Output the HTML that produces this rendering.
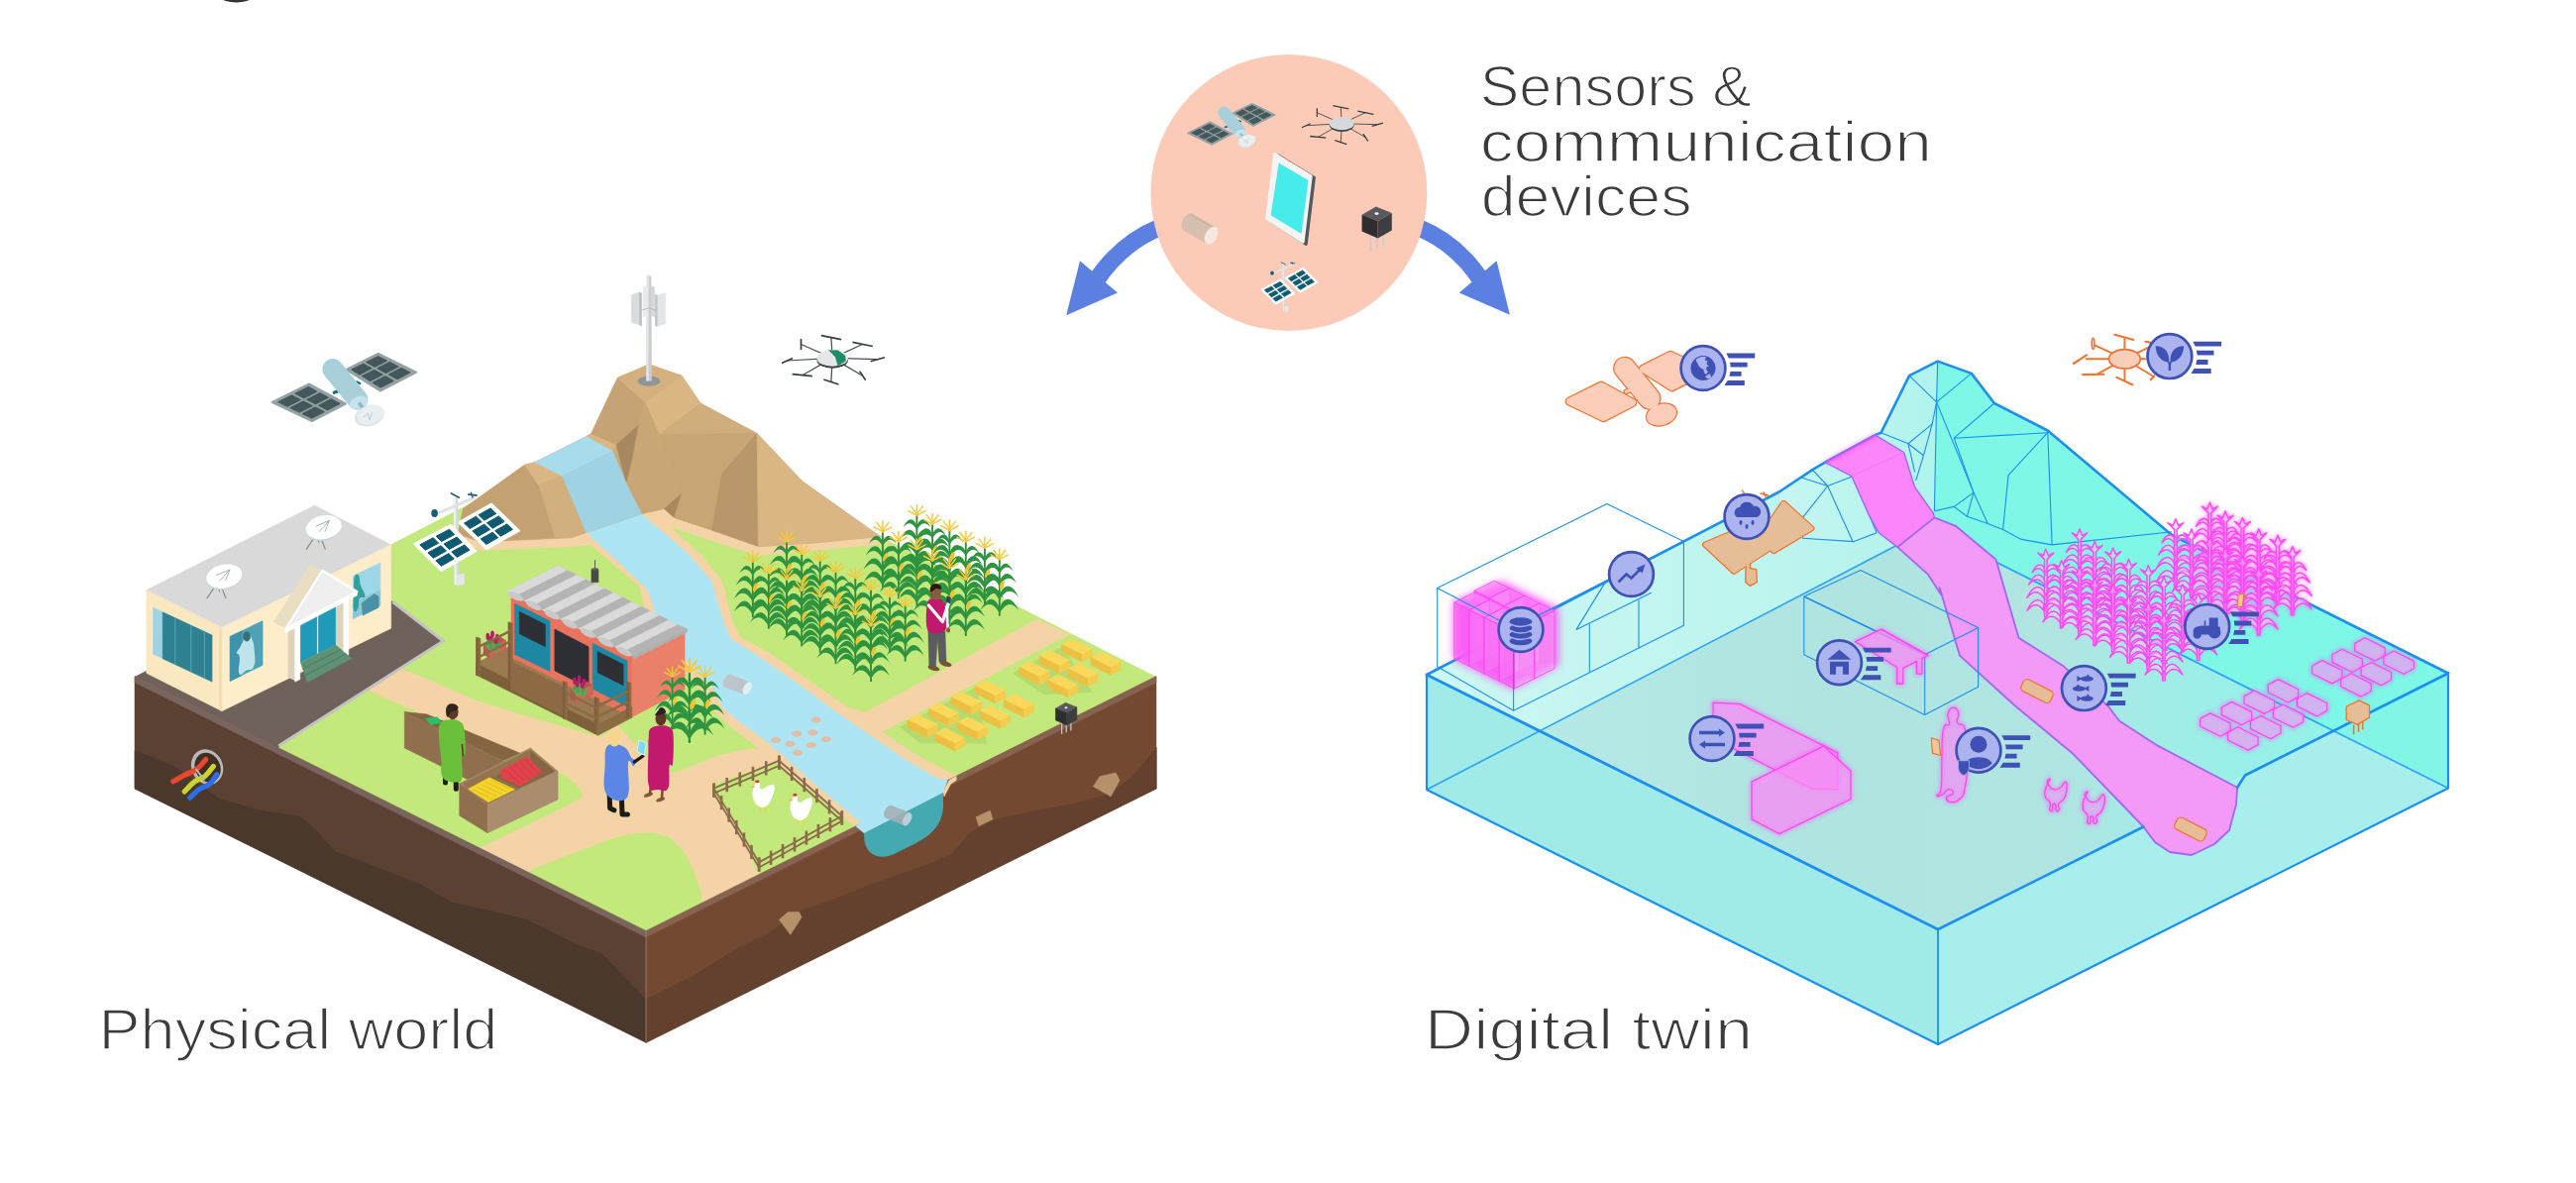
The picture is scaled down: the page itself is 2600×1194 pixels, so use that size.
<!DOCTYPE html>
<html lang="en"><head><meta charset="utf-8"><title>Physical world and digital twin</title>
<style>
html,body{margin:0;padding:0;background:#fff;}
body{width:2600px;height:1194px;overflow:hidden;font-family:"Liberation Sans",sans-serif;}
svg{display:block}
.lbl{font-family:"Liberation Sans",sans-serif;font-size:56.5px;fill:#3b3b3b;stroke:#fff;stroke-width:1.6px;paint-order:fill stroke;}
</style></head><body>
<svg width="2600" height="1194" viewBox="0 0 2600 1194">
<defs>
<g id="corn">
<path d="M0 0 L0 -88" stroke="#2E8B3A" stroke-width="2.8" fill="none"/>
<g fill="#2F9440">
<path d="M0 -12 C6 -28 17 -33 29 -9 C18 -22 9 -20 0 -4Z"/>
<path d="M0 -12 C-6 -28 -17 -33 -29 -9 C-18 -22 -9 -20 0 -4Z"/>
<path d="M0 -32 C6 -48 17 -53 29 -29 C18 -42 9 -40 0 -24Z"/>
<path d="M0 -32 C-6 -48 -17 -53 -29 -29 C-18 -42 -9 -40 0 -24Z"/>
<path d="M0 -52 C5.4 -66.4 15.3 -70.9 26.1 -49.3 C16.2 -61 8.1 -59.2 0 -44.8Z"/>
<path d="M0 -52 C-5.4 -66.4 -15.3 -70.9 -26.1 -49.3 C-16.2 -61 -8.1 -59.2 0 -44.8Z"/>
<path d="M0 -70 C4.3 -81.5 12.2 -85.1 20.9 -67.8 C13 -77.2 6.5 -75.8 0 -64.2Z"/>
<path d="M0 -70 C-4.3 -81.5 -12.2 -85.1 -20.9 -67.8 C-13 -77.2 -6.5 -75.8 0 -64.2Z"/>
</g>
<ellipse cx="4" cy="-47" rx="3" ry="7" fill="#F2C230" transform="rotate(20 4 -47)"/>
<g stroke="#F6C83A" stroke-width="2.2" fill="none" stroke-linecap="round">
<path d="M0 -86 L0 -102"/><path d="M0 -88 L-9 -100"/><path d="M0 -88 L9 -100"/><path d="M0 -86 L-13 -93"/><path d="M0 -86 L13 -93"/>
</g>
</g><clipPath id="topclip"><polygon points="136,683 647,419 1167,683 652,940"/></clipPath>
<linearGradient id="gband" gradientUnits="userSpaceOnUse" x1="1440" y1="0" x2="1960" y2="0">
<stop offset="0" stop-color="#CDF7F3"/><stop offset="1" stop-color="#B4F3EC"/></linearGradient>
<linearGradient id="gfloor" gradientUnits="userSpaceOnUse" x1="1556" y1="0" x2="2354" y2="0">
<stop offset="0" stop-color="#B5E9E6"/><stop offset="0.35" stop-color="#AFE4E1"/><stop offset="0.66" stop-color="#B0E5E2"/><stop offset="0.82" stop-color="#9DEEE7"/><stop offset="1" stop-color="#93F2E8"/></linearGradient>
<linearGradient id="gmount" gradientUnits="userSpaceOnUse" x1="1800" y1="0" x2="2000" y2="0">
<stop offset="0" stop-color="#C6F6F1"/><stop offset="1" stop-color="#A9F3EB"/></linearGradient>
<filter id="glow" x="-30%" y="-30%" width="160%" height="160%"><feGaussianBlur stdDeviation="2.2"/></filter>
<filter id="glow2" x="-30%" y="-30%" width="160%" height="160%"><feGaussianBlur stdDeviation="4"/></filter>
<g id="cornm" fill="#FAC0F9" fill-opacity="0.45" stroke="#FF4AF3" stroke-width="2.3" stroke-linejoin="round">
<path d="M0 -12 C6 -28 17 -33 29 -9 C18 -22 9 -20 0 -4Z"/>
<path d="M0 -12 C-6 -28 -17 -33 -29 -9 C-18 -22 -9 -20 0 -4Z"/>
<path d="M0 -32 C6 -48 17 -53 29 -29 C18 -42 9 -40 0 -24Z"/>
<path d="M0 -32 C-6 -48 -17 -53 -29 -29 C-18 -42 -9 -40 0 -24Z"/>
<path d="M0 -52 C5.4 -66.4 15.3 -70.9 26.1 -49.3 C16.2 -61 8.1 -59.2 0 -44.8Z"/>
<path d="M0 -52 C-5.4 -66.4 -15.3 -70.9 -26.1 -49.3 C-16.2 -61 -8.1 -59.2 0 -44.8Z"/>
<path d="M0 -70 C4.3 -81.5 12.2 -85.1 20.9 -67.8 C13 -77.2 6.5 -75.8 0 -64.2Z"/>
<path d="M0 -70 C-4.3 -81.5 -12.2 -85.1 -20.9 -67.8 C-13 -77.2 -6.5 -75.8 0 -64.2Z"/>
<path d="M-2 0 L-2 -88 L-12 -98 L-4 -94 L0 -104 L4 -94 L12 -98 L2 -88 L2 0Z"/>
</g>
</defs>
<polygon points="136,683 652,940 652,1052 136,796" fill="#5B4034" stroke="#5B4034" stroke-width="0.5" />
<polygon points="136,757.8 176.1,773.5 221.7,806.5 262.3,817.9 302.9,824.3 318.1,837 338.4,859.8 379,875 424.6,892.7 455.1,910.5 500.7,920.6 531.1,928.3 581.9,953.6 607.2,962.5 652.4,1008.9 652.4,1052.5 136,795.9" fill="#4B382D" stroke="#4B382D" stroke-width="0.5" />
<polygon points="652,940 1167,683 1167,796 652,1052" fill="#744931" stroke="#744931" stroke-width="0.5" />
<polygon points="1167.3,754.5 1158,765.9 1142.7,783.7 1119.9,801.4 1081.9,811.6 1041.3,819.2 1005.8,826.8 980.4,839.5 960.1,862.3 929.7,875 879,892.7 840.9,908 810.5,918.1 777.5,940.9 742,958.7 701.4,984 652,1008.9 652,1052.5 1167.3,795.9" fill="#64412E" stroke="#64412E" stroke-width="0.5" />
<polygon points="786.4,928.3 795.3,920.6 806.7,920.6 809.2,925.7 797.8,943.5" fill="#B5926A" stroke="#B5926A" stroke-width="0.5" />
<polygon points="985,824.8 999.4,817.9 1002,826.8 988,833.7" fill="#B5926A" stroke="#B5926A" stroke-width="0.5" />
<polygon points="1103.4,793.8 1109.8,783.7 1126.2,779.9 1130.1,787.5 1121.2,804" fill="#B5926A" stroke="#B5926A" stroke-width="0.5" />
<g clip-path="url(#topclip)">
<polygon points="136,683 647,419 1167,683 652,940" fill="#C3E87C" stroke="#C3E87C" stroke-width="0.5" />
<path d="M403.8 675 C413.2 676.0 470.1 703.2 486.7 708.8 C503.3 714.4 592.0 740.7 603.3 742.6 C614.6 744.5 618.1 730.4 621.9 731.8 C625.7 733.2 644.4 755.5 649 759.5 C653.6 763.5 671.5 779.5 677.7 779.8 C683.9 780.1 716.5 764.9 723.4 762.9 C730.3 760.9 755.0 755.1 760.6 755.4 C766.2 755.7 794.4 763.1 791 766.3 C787.6 769.5 724.2 788.2 720 793.3 C715.8 798.4 737.2 821.8 740.3 827.1 C743.4 832.5 755.4 853.3 757.2 857.5 C759.0 861.7 760.3 874.6 762.3 877.8 C764.3 881.0 783.6 891.8 780.9 895.4 C778.2 899.0 736.0 919.5 730.1 920.8 C724.2 922.1 712.5 912.5 710.5 910.6 C708.5 908.7 707.4 900.8 706.5 898.1 C705.6 895.4 701.1 881.0 699.7 877.8 C698.3 874.6 691.6 861.9 689.6 859.2 C687.6 856.5 678.8 847.2 676 845.7 C673.2 844.2 659.1 840.9 655.7 840.6 C652.3 840.3 638.9 841.7 635.5 842.3 C632.1 842.9 619.2 846.1 615.2 847.4 C611.2 848.7 594.3 855.1 588.1 857.5 C581.9 859.9 546.4 873.7 540.8 876.1 C535.2 878.5 526.1 887.5 520.5 886.3 C514.9 885.1 475.5 864.5 473.2 861.6 C470.9 858.7 484.9 855.6 493.4 851.5 C501.8 847.4 566.7 816.0 574.6 811.9 C582.5 807.8 588.9 804.5 588.1 801.8 C587.3 799.1 582.4 788.5 564.5 779.8 C546.6 771.1 386.8 705.6 373.4 696.9 C360.0 688.2 394.4 674.0 403.8 675Z" fill="#F4D4A7" />
<polygon points="820.6,706.2 873.9,718.8 1046.4,625 1079.3,640.2 868.8,750 856.2,750" fill="#F4D4A7" stroke="#F4D4A7" stroke-width="0.5" />
<polygon points="583.1,539 608.4,560 645.6,592.1 650.7,614.1 659.1,651.3 689.6,676.7 709.8,698.6 721.7,718.9 740.3,735.8 760.6,751 784.2,771.3 824.8,803.4 865.4,835.6 966.8,783.8 926.2,762.9 885.7,735.8 855.2,713.8 821.4,690.2 777.5,659.7 747,642.8 738.6,625.9 728.4,585.4 707.5,560 660.8,517.7 647.5,518.6" fill="#F4D4A7" stroke="#F4D4A7" stroke-width="0.5" />
<polygon points="591.7,537.7 616.9,560 654.1,595.5 659.8,612.4 665.2,637.8 672,652 699.7,672.3 720,695.2 729.5,713.8 747,729.1 767.3,743.3 791,762.9 824.8,793.3 872.1,832.5 953.3,789.9 912.7,766.3 868.8,735.8 841.7,717.2 807.9,691.9 763.9,661.4 736.9,644.5 730.1,627.6 718.3,587 695.6,560 647.5,518.6" fill="#ADE5F4" stroke="#ADE5F4" stroke-width="0.5" />
<polygon points="396,607 447.4,647.5 281.3,753.5 275,765 120,690 300,590" fill="#6F625B" stroke="#6F625B" stroke-width="0.5" />
<polyline points="396.5,607.5 447.4,647 281.3,752.8" fill="none" stroke="#C3C3C3" stroke-width="3" />
</g>
<polygon points="136,682.4 652,939.4 652,946 136,689" fill="#79635A" stroke="#79635A" stroke-width="0.5" />
<polygon points="652,939.4 1167,682.4 1167,689 652,946" fill="#87624F" stroke="#87624F" stroke-width="0.5" />
<polyline points="652,940 652,1052" fill="none" stroke="#9c8478" stroke-width="0.8" />
<polygon points="462.4,538.9 485.2,545.2 576.5,541.4 591.7,536.4 601.8,549 579,551.6 485.2,555.4 454.8,546.5" fill="#F4D4A7" stroke="#F4D4A7" stroke-width="0.5" />
<polygon points="647.5,517.4 670.3,512.3 680.4,521.2 718.5,533.8 766.7,550.3 825,546.5 888.4,540.2 901,547.8 825,555.4 764.1,560.5 713.4,544 675.4,531.3 667.8,523.7 658.9,528.8" fill="#F4D4A7" stroke="#F4D4A7" stroke-width="0.5" />
<polygon points="467.5,513.5 529.6,469.2 539.7,466.6 591.7,440.5 596.8,437.5 623.4,381.2 655.1,367.8 688.1,379.2 707.1,407.1 764.1,437.5 809.8,485.7 845.3,511 888.4,541.4 825,547.8 766.7,551.6 718.5,535.1 680.4,522.4 670.3,513.5 647.5,518.6 591.7,537.6 576.5,542.7 485.2,547 462.4,538.9" fill="#CBA878" stroke="#CBA878" stroke-width="0.5" />
<polygon points="467.5,513.5 529.6,469.2 543.5,489.5 560,541.9 485.2,547 462.4,538.9" fill="#C4A173" stroke="#C4A173" stroke-width="0.5" />
<polygon points="529.6,469.2 539.7,466.6 567.6,480.6 543.5,489.5" fill="#D9B684" stroke="#D9B684" stroke-width="0.5" />
<polygon points="543.5,489.5 567.6,480.6 591.7,537.6 576.5,542.7 560,541.9" fill="#D2AF7E" stroke="#D2AF7E" stroke-width="0.5" />
<polygon points="591.7,440.5 596.8,437.5 622.1,448.9 618.3,455.2" fill="#D9B684" stroke="#D9B684" stroke-width="0.5" />
<polygon points="623.4,381.2 651.3,406.6 644.9,428.6 622.1,448.9 596.8,437.5" fill="#C6A374" stroke="#C6A374" stroke-width="0.5" />
<polygon points="623.4,381.2 655.1,367.8 688.1,379.2 651.3,406.6" fill="#D4B07F" stroke="#D4B07F" stroke-width="0.5" />
<polygon points="651.3,406.6 688.1,379.2 707.1,407.1 665.2,438.8" fill="#D9B684" stroke="#D9B684" stroke-width="0.5" />
<polygon points="644.9,428.6 622.1,448.9 632.3,488.2 638.6,462.8" fill="#A8895F" stroke="#A8895F" stroke-width="0.5" />
<polygon points="651.3,406.6 665.2,438.8 688.1,498.3 670.3,513.5 647.5,518.6 632.3,488.2 638.6,462.8 644.9,428.6" fill="#C9A676" stroke="#C9A676" stroke-width="0.5" />
<polygon points="670.3,513.5 688.1,498.3 680.4,522.4" fill="#A8895F" stroke="#A8895F" stroke-width="0.5" />
<polygon points="665.2,438.8 707.1,407.1 764.1,437.5" fill="#D0AD7C" stroke="#D0AD7C" stroke-width="0.5" />
<polygon points="665.2,438.8 764.1,437.5 728.6,478.1 718.5,535.1 680.4,522.4 688.1,498.3" fill="#C8A575" stroke="#C8A575" stroke-width="0.5" />
<polygon points="764.1,437.5 765.4,551.6 718.5,535.1 728.6,478.1" fill="#B8976B" stroke="#B8976B" stroke-width="0.5" />
<polygon points="764.1,437.5 809.8,485.7 845.3,511 888.4,541.4 825,547.8 765.4,551.6" fill="#D9B684" stroke="#D9B684" stroke-width="0.5" />
<polygon points="539.7,466.6 591.7,440.5 618.3,455.2 567.6,480.6" fill="#A9DCEB" stroke="#A9DCEB" stroke-width="0.5" />
<polygon points="567.6,480.6 618.3,455.2 632.3,488.2 647.5,518.6 591.7,537.6" fill="#9FD3E3" stroke="#9FD3E3" stroke-width="0.5" />
<ellipse cx="655.1" cy="384.7" rx="11.41" ry="5.07" fill="#8E9599" />
<polygon points="653.1,279 657.1,279 657.6,384.2 652.6,384.2" fill="#C9CDD0" stroke="#C9CDD0" stroke-width="0.5" />
<polygon points="653.1,279 654.6,279 654.3,384.2 652.6,384.2" fill="#E4E6E8" stroke="#E4E6E8" stroke-width="0.5" />
<ellipse cx="655.1" cy="279" rx="2.28" ry="1.27" fill="#DADDDF" />
<polygon points="637.3,297.5 645.5,295 645.5,328 637.3,325.4" fill="#D9DBDD" stroke="#D9DBDD" stroke-width="0.5" />
<polygon points="645.5,295 647.5,296 647.5,329 645.5,328" fill="#B9BDC0" stroke="#B9BDC0" stroke-width="0.5" />
<polygon points="663.2,298 671.8,295.5 671.8,326.4 663.2,329.5" fill="#E3E5E6" stroke="#E3E5E6" stroke-width="0.5" />
<polygon points="661.4,297 663.2,298 663.2,329.5 661.4,328.5" fill="#BDC1C4" stroke="#BDC1C4" stroke-width="0.5" />
<polygon points="649,289.9 653.1,288.4 653.1,318.8 649,320.3" fill="#E9EAEB" stroke="#E9EAEB" stroke-width="0.5" />
<polygon points="657.1,288.4 660.7,289.9 660.7,319.8 657.1,318.3" fill="#D4D7D9" stroke="#D4D7D9" stroke-width="0.5" />
<polyline points="647.5,313.2 655.1,310.7 662.7,313.8" fill="none" stroke="#AEB3B6" stroke-width="0.8" />
<polyline points="840.2,361.4 808.5,347.5" fill="none" stroke="#4B4F52" stroke-width="1.25" />
<polyline points="840.2,361.4 838.9,340.6" fill="none" stroke="#4B4F52" stroke-width="1.25" />
<polyline points="840.2,361.4 870.6,347.5" fill="none" stroke="#4B4F52" stroke-width="1.25" />
<polyline points="840.2,361.4 885.8,362.7" fill="none" stroke="#4B4F52" stroke-width="1.25" />
<polyline points="840.2,361.4 870.6,379.2" fill="none" stroke="#4B4F52" stroke-width="1.25" />
<polyline points="840.2,361.4 838.9,385.5" fill="none" stroke="#4B4F52" stroke-width="1.25" />
<polyline points="840.2,361.4 809.8,378.7" fill="none" stroke="#4B4F52" stroke-width="1.25" />
<polyline points="840.2,361.4 794.5,364" fill="none" stroke="#4B4F52" stroke-width="1.25" />
<polyline points="808.5,341.9 808.5,353.1" fill="none" stroke="#3A3D40" stroke-width="1.7" />
<polyline points="828.8,338.6 849.1,342.7" fill="none" stroke="#3A3D40" stroke-width="1.7" />
<polyline points="860.5,345.4 880.8,349.5" fill="none" stroke="#3A3D40" stroke-width="1.7" />
<polyline points="878.7,364.7 892.9,360.7" fill="none" stroke="#3A3D40" stroke-width="1.7" />
<polyline points="867.6,374.6 873.7,383.7" fill="none" stroke="#3A3D40" stroke-width="1.7" />
<polyline points="831.3,383 846.5,388" fill="none" stroke="#3A3D40" stroke-width="1.7" />
<polyline points="799.6,377.6 819.9,379.7" fill="none" stroke="#3A3D40" stroke-width="1.7" />
<polyline points="789,366.5 800.1,361.4" fill="none" stroke="#3A3D40" stroke-width="1.7" />
<ellipse cx="840.2" cy="363.4" rx="15.72" ry="8.37" fill="#3F4346" />
<ellipse cx="840.2" cy="361.4" rx="15.72" ry="8.37" fill="#E4E6E8" />
<polygon points="836.6,353.6 845.8,353.8 852.9,358.9 853.4,364.5 845.8,369 843.2,360.2" fill="#1F8A66" stroke="#1F8A66" stroke-width="0.5" />
<polygon points="274.9,406 312.1,387.6 348.8,407.4 314.9,425.1" fill="#93A2A4" stroke="#93A2A4" stroke-width="2.2" stroke-linejoin="round"/>
<polygon points="281,405.7 294.3,399.1 303.2,403.5 290.1,410.1" fill="#45575B" stroke="#45575B" stroke-width="1.2" stroke-linejoin="round"/>
<polygon points="293.3,411.6 306.2,405.1 315.1,409.6 302.4,416" fill="#45575B" stroke="#45575B" stroke-width="1.2" stroke-linejoin="round"/>
<polygon points="305.6,417.6 318.2,411.1 327,415.6 314.7,422" fill="#45575B" stroke="#45575B" stroke-width="1.2" stroke-linejoin="round"/>
<polygon points="298,397.3 311.3,390.6 319.8,395.2 306.8,401.7" fill="#45575B" stroke="#45575B" stroke-width="1.2" stroke-linejoin="round"/>
<polygon points="309.8,403.3 322.8,396.8 331.3,401.3 318.6,407.8" fill="#45575B" stroke="#45575B" stroke-width="1.2" stroke-linejoin="round"/>
<polygon points="321.7,409.3 334.3,402.9 342.8,407.4 330.5,413.8" fill="#45575B" stroke="#45575B" stroke-width="1.2" stroke-linejoin="round"/>
<polygon points="349.7,373 381.8,356.9 419.9,375.8 383.7,394.4" fill="#93A2A4" stroke="#93A2A4" stroke-width="2.2" stroke-linejoin="round"/>
<polygon points="355,373 366.7,367.2 374.9,371.8 362.9,377.9" fill="#45575B" stroke="#45575B" stroke-width="1.2" stroke-linejoin="round"/>
<polygon points="365.7,379.6 377.8,373.5 386,378.1 373.5,384.5" fill="#45575B" stroke="#45575B" stroke-width="1.2" stroke-linejoin="round"/>
<polygon points="376.3,386.2 388.9,379.7 397.1,384.4 384.2,391" fill="#45575B" stroke="#45575B" stroke-width="1.2" stroke-linejoin="round"/>
<polygon points="369.9,365.6 381.6,359.7 390.2,364.1 378.2,370.2" fill="#45575B" stroke="#45575B" stroke-width="1.2" stroke-linejoin="round"/>
<polygon points="381.1,371.8 393.3,365.6 401.9,370 389.5,376.4" fill="#45575B" stroke="#45575B" stroke-width="1.2" stroke-linejoin="round"/>
<polygon points="392.4,378 405,371.5 413.6,375.9 400.7,382.6" fill="#45575B" stroke="#45575B" stroke-width="1.2" stroke-linejoin="round"/>
<polyline points="337.2,396.3 344.1,393.7" fill="none" stroke="#1C6E80" stroke-width="3.2" stroke-linecap="round"/>
<polyline points="360.4,385.6 363.2,387" fill="none" stroke="#1C6E80" stroke-width="2.5" stroke-linecap="round"/>
<polyline points="335.8,372.5 360.9,403.2" fill="none" stroke="#A9D0DA" stroke-width="21" stroke-linecap="round"/>
<ellipse cx="361.8" cy="406.5" rx="9.76" ry="6.14" fill="#C5E3EA" transform="rotate(-25 361.8 406.5)" />
<polyline points="362.3,406.5 366,411.6" fill="none" stroke="#8FB9C6" stroke-width="3.5" />
<ellipse cx="373" cy="419.5" rx="15.34" ry="10.41" fill="#DDE4E9" transform="rotate(-18 373 419.5)" />
<ellipse cx="373.9" cy="418.6" rx="13.95" ry="9.11" fill="#E9EEF1" transform="rotate(-18 373.9 418.6)" />
<polyline points="366.9,420.9 371.6,417.2 373,423.7 375.8,415.8" fill="none" stroke="#B5C0C6" stroke-width="0.8" />
<polygon points="863.8,833.9 872.6,841.3 952,800.2 956.3,787.5 929.7,783.7" fill="#ADE5F4" stroke="#ADE5F4" stroke-width="0.5" />
<path d="M871.9 841 L952 799.9 952 814.1 C951.3 831.9 939.8 843.3 924.6 850.9 L901.8 862.3 C886.6 868.7 875.2 862.3 872.6 849.6 Z" fill="#45A9B1" />
<polygon points="952,799.4 958.1,787.5 965.2,783.2 965.2,787.5 959.6,791.3 953,804" fill="#F4D4A7" stroke="#F4D4A7" stroke-width="0.5" />
<ellipse cx="209.1" cy="774.1" rx="15.72" ry="18.26" fill="#B9B9B9" transform="rotate(-25 209.1 774.1)" />
<ellipse cx="209.6" cy="774.6" rx="12.68" ry="15.22" fill="#3F2E26" transform="rotate(-25 209.6 774.6)" />
<path d="M207.8 766.4 C206.3 768.0 202.5 773.4 198.9 776.1 C195.3 778.8 190.2 780.3 186.2 782.4 C182.2 784.5 176.7 787.7 174.8 788.8" fill="none" stroke="#E8472D" stroke-width="5.2" stroke-linecap="round"/>
<path d="M215.4 773.5 C213.9 775.2 209.7 781.2 206.5 783.7 C203.3 786.2 199.8 786.3 196.4 788.8 C193.0 791.3 187.9 797.2 186.2 798.9" fill="none" stroke="#C9D52B" stroke-width="5.2" stroke-linecap="round"/>
<path d="M218.7 781.7 C217.5 783.3 214.5 788.8 211.6 791.3 C208.7 793.8 204.7 794.1 201.4 796.4 C198.1 798.7 193.4 803.7 191.8 805.2" fill="none" stroke="#2D6FE8" stroke-width="5.2" stroke-linecap="round"/>
<polyline points="197.6,776.1 206.5,787.5" fill="none" stroke="#B9B9B9" stroke-width="2" />
<polygon points="147.8,595.4 224,633.3 224,717.7 147.8,679.4" fill="#FBE8C1" stroke="#FBE8C1" stroke-width="0.5" />
<polygon points="224,633.3 394.7,549.8 394.7,634.2 224,717.7" fill="#FDEDCB" stroke="#FDEDCB" stroke-width="0.5" />
<polygon points="221.3,631.9 224,633.3 224,717.7 221.3,716.4" fill="#F3DDB2" stroke="#F3DDB2" stroke-width="0.5" />
<polygon points="317.6,510.1 394.7,549.8 224,633.3 147.8,595.4" fill="#D9D9D9" stroke="#D9D9D9" stroke-width="0.5" />
<polygon points="147.8,595.4 224,633.3 224,635.6 147.8,597.7" fill="#F6E6C4" stroke="#F6E6C4" stroke-width="0.5" />
<polygon points="224,633.3 394.7,549.8 394.7,552.1 224,635.6" fill="#FAEBCB" stroke="#FAEBCB" stroke-width="0.5" />
<polygon points="154.6,613.2 214,641.1 214,688.1 154.6,660.2" fill="#9DD3E3" stroke="#9DD3E3" stroke-width="0.5" />
<polygon points="164.2,617.8 214,641.1 214,688.1 164.2,664.8" fill="#2F8090" stroke="#2F8090" stroke-width="0.5" />
<polyline points="176.8,623.7 176.8,670.7" fill="none" stroke="#4FA0B0" stroke-width="1.2" />
<polyline points="192.8,631.1 192.8,678.2" fill="none" stroke="#4FA0B0" stroke-width="1.2" />
<polyline points="206.4,637.5 206.4,684.6" fill="none" stroke="#4FA0B0" stroke-width="1.2" />
<polygon points="232.2,642.4 265.1,626.5 265.1,671.4 232.2,687.4" fill="#4CA2B6" stroke="#4CA2B6" stroke-width="0.5" />
<polygon points="232.2,642.4 244.1,636.7 244.1,681.7 232.2,687.4" fill="#3E95AA" stroke="#3E95AA" stroke-width="0.5" />
<path d="M245.2 647.5 C247.2 643.8 247.3 640.1 249.8 639.5 C252.3 638.9 252.6 640.6 254.4 645.2 C256.2 649.8 256.2 649.3 256.7 656.6 C257.2 663.9 258.3 667.2 256.2 672.6 C254.1 678.0 252.6 674.8 248.7 676.7 C244.8 678.6 243.2 683.4 241.4 679.9 C239.6 676.4 242.4 669.0 241.8 663.4 C241.2 657.8 239.0 661.6 239.1 658.9 C239.2 656.2 240.7 656.2 242.3 653.2 C243.9 650.2 243.2 651.2 245.2 647.5Z" fill="#BEE3EA" />
<ellipse cx="249.1" cy="642.4" rx="3.65" ry="5.02" fill="#3A6E75" />
<polygon points="356.4,581.3 383.8,568 383.8,610.9 356.4,624.6" fill="#9DD6E6" stroke="#9DD6E6" stroke-width="0.5" />
<polygon points="356.4,608.7 383.8,595.4 383.8,610.9 356.4,624.6" fill="#8CC8D6" stroke="#8CC8D6" stroke-width="0.5" />
<path d="M358.2 581.3 C359.4 578.6 361.0 579.2 362.3 581.3 C363.6 583.4 362.5 585.6 363.9 590.4 C365.3 595.2 368.8 598.6 368.5 601.8 C368.2 605.0 364.4 601.4 362.8 604.1 C361.2 606.8 362.9 610.5 361.6 613.2 C360.3 615.9 358.2 620.3 357.1 615.5 C356.1 610.7 356.8 600.7 357.1 592.7 C357.4 584.7 357.0 584.0 358.2 581.3Z" fill="#2FA39A" />
<polygon points="365.1,608.7 377.6,599.5 382.2,601.8 382.2,613.2 366.2,621.2" fill="#4A93A6" stroke="#4A93A6" stroke-width="0.5" />
<polygon points="312.6,570.3 325.8,576.3 289.7,634.2 276.1,628.1" fill="#E9DDC2" stroke="#E9DDC2" stroke-width="0.5" />
<polygon points="290.9,633.8 298.9,629.7 298.9,687.4 290.9,683.5" fill="#DDD2BC" stroke="#DDD2BC" stroke-width="0.5" />
<polygon points="339.9,608.7 346.8,605.2 346.8,660 339.9,656.6" fill="#DDD2BC" stroke="#DDD2BC" stroke-width="0.5" />
<polygon points="303,629.7 338.8,612.3 338.8,650.9 303,668.5" fill="#1F9BB9" stroke="#1F9BB9" stroke-width="0.5" />
<polyline points="320.6,621.4 320.6,660" fill="none" stroke="#BFE9F5" stroke-width="1.3" />
<polygon points="325.3,575.8 360.5,597.3 288.1,635.1" fill="#EFEFEF" stroke="#FFFFFF" stroke-width="2.2" stroke-linejoin="round"/>
<polygon points="288.1,635.1 360.5,597.3 360.5,600.9 288.1,638.8" fill="#FFFFFF" stroke="#FFFFFF" stroke-width="0.5" />
<polygon points="297.7,632.6 302.8,630.3 302.8,685.8 297.7,688.1" fill="#FFFFFF" stroke="#FFFFFF" stroke-width="0.5" />
<polygon points="346.8,605.2 351.8,603 351.8,661.2 346.8,659.3" fill="#FFFFFF" stroke="#FFFFFF" stroke-width="0.5" />
<polygon points="303.4,668.5 338.8,650.9 354.8,664.6 310.3,688.5" fill="#5F9176" stroke="#5F9176" stroke-width="0.5" />
<polyline points="305.7,675.1 344.1,655.4" fill="none" stroke="#4C7A62" stroke-width="1" />
<polyline points="308,681.7 349.3,660" fill="none" stroke="#4C7A62" stroke-width="1" />
<polyline points="217.9,590.4 208.7,604.1" fill="none" stroke="#7F9097" stroke-width="1.2" />
<polyline points="223.6,592.7 228.1,604.1" fill="none" stroke="#7F9097" stroke-width="1.2" />
<polyline points="219.5,590.9 221.7,597.7" fill="none" stroke="#7F9097" stroke-width="1" />
<ellipse cx="225.6" cy="583.1" rx="18.26" ry="11.87" fill="#C9D5DA" transform="rotate(-12 225.6 583.1)" />
<ellipse cx="226.3" cy="581.7" rx="18.26" ry="11.87" fill="#FFFFFF" transform="rotate(-12 226.3 581.7)" />
<polyline points="218.3,580.6 232,574.9 227.4,586.3" fill="none" stroke="#9AAAB0" stroke-width="0.9" />
<polyline points="221.7,586.3 232,574.9" fill="none" stroke="#9AAAB0" stroke-width="0.9" />
<polyline points="318.3,540.9 309.1,554.6" fill="none" stroke="#7F9097" stroke-width="1.2" />
<polyline points="324,543.2 328.5,554.6" fill="none" stroke="#7F9097" stroke-width="1.2" />
<polyline points="319.9,541.3 322.1,548.2" fill="none" stroke="#7F9097" stroke-width="1" />
<ellipse cx="326" cy="533.6" rx="18.26" ry="11.87" fill="#C9D5DA" transform="rotate(-12 326 533.6)" />
<ellipse cx="326.7" cy="532.2" rx="18.26" ry="11.87" fill="#FFFFFF" transform="rotate(-12 326.7 532.2)" />
<polyline points="318.7,531.1 332.4,525.4 327.9,536.8" fill="none" stroke="#9AAAB0" stroke-width="0.9" />
<polyline points="322.1,536.8 332.4,525.4" fill="none" stroke="#9AAAB0" stroke-width="0.9" />
<polygon points="463.4,527.3 495.9,508.9 523.6,535.6 491.1,553.8" fill="#FFFFFF" stroke="#FFFFFF" stroke-width="2.5" stroke-linejoin="round"/>
<polygon points="468.5,528 480.5,521.2 486.2,526.7 474.2,533.5" fill="#0F5A73" stroke="#0F5A73" stroke-width="1" stroke-linejoin="round"/>
<polygon points="476.8,536 488.8,529.2 494.5,534.6 482.5,541.4" fill="#0F5A73" stroke="#0F5A73" stroke-width="1" stroke-linejoin="round"/>
<polygon points="485.2,543.9 497.2,537.2 502.8,542.6 490.8,549.4" fill="#0F5A73" stroke="#0F5A73" stroke-width="1" stroke-linejoin="round"/>
<polygon points="483.1,519.7 495.1,512.9 500.8,518.4 488.8,525.2" fill="#0F5A73" stroke="#0F5A73" stroke-width="1" stroke-linejoin="round"/>
<polygon points="491.4,527.7 503.4,520.9 509.1,526.4 497.1,533.2" fill="#0F5A73" stroke="#0F5A73" stroke-width="1" stroke-linejoin="round"/>
<polygon points="499.7,535.7 511.7,528.9 517.4,534.4 505.4,541.2" fill="#0F5A73" stroke="#0F5A73" stroke-width="1" stroke-linejoin="round"/>
<polygon points="458,502.5 462,502.5 463,590.1 458.9,590.1" fill="#D5D9DC" stroke="#D5D9DC" stroke-width="0.5" />
<polygon points="458,502.5 459.6,502.5 460.6,590.1 458.9,590.1" fill="#F0F2F3" stroke="#F0F2F3" stroke-width="0.5" />
<polygon points="461.1,580.6 468.6,578.9 468.6,589.3 462,591.2" fill="#E4E7E9" stroke="#E4E7E9" stroke-width="0.5" />
<polygon points="418.5,549.1 454.9,530.2 480,556.2 445.4,575.9" fill="#FFFFFF" stroke="#FFFFFF" stroke-width="2.5" stroke-linejoin="round"/>
<polygon points="423.8,549.8 437.3,542.7 442.6,548.2 429.3,555.2" fill="#0F5A73" stroke="#0F5A73" stroke-width="1" stroke-linejoin="round"/>
<polygon points="431.9,557.8 445.1,550.7 450.5,556.1 437.4,563.2" fill="#0F5A73" stroke="#0F5A73" stroke-width="1" stroke-linejoin="round"/>
<polygon points="439.9,565.8 452.9,558.6 458.3,564 445.4,571.3" fill="#0F5A73" stroke="#0F5A73" stroke-width="1" stroke-linejoin="round"/>
<polygon points="440.2,541.2 453.6,534.2 458.8,539.5 445.5,546.6" fill="#0F5A73" stroke="#0F5A73" stroke-width="1" stroke-linejoin="round"/>
<polygon points="448,549.1 461.2,542 466.4,547.4 453.3,554.5" fill="#0F5A73" stroke="#0F5A73" stroke-width="1" stroke-linejoin="round"/>
<polygon points="455.8,557 468.8,549.9 473.9,555.2 461.1,562.4" fill="#0F5A73" stroke="#0F5A73" stroke-width="1" stroke-linejoin="round"/>
<polyline points="440.2,518.6 459.2,510.8 479.3,501.8" fill="none" stroke="#E0E3E6" stroke-width="3" />
<ellipse cx="438.6" cy="518.1" rx="3.31" ry="4.02" fill="#1C5F73" />
<polyline points="454.9,497.8 463.9,502.5" fill="none" stroke="#1C5F73" stroke-width="1.6" />
<polyline points="472.2,498.9 481.7,500.1" fill="none" stroke="#1C5F73" stroke-width="1.6" />
<polyline points="475.3,496.6 477.2,502.5" fill="none" stroke="#1C5F73" stroke-width="1.2" />
<use href="#corn" transform="translate(925.4 577.3) scale(0.664)"/>
<use href="#corn" transform="translate(941.1 586.2) scale(0.664)"/>
<use href="#corn" transform="translate(958.4 592.5) scale(0.664)"/>
<use href="#corn" transform="translate(974.8 603.9) scale(0.664)"/>
<use href="#corn" transform="translate(993.9 610.3) scale(0.664)"/>
<use href="#corn" transform="translate(1008.8 621.7) scale(0.664)"/>
<use href="#corn" transform="translate(890.9 593.8) scale(0.664)"/>
<use href="#corn" transform="translate(906.9 603.9) scale(0.664)"/>
<use href="#corn" transform="translate(925.4 611.6) scale(0.664)"/>
<use href="#corn" transform="translate(941.1 623) scale(0.664)"/>
<use href="#corn" transform="translate(958.4 630.6) scale(0.664)"/>
<use href="#corn" transform="translate(974.8 642) scale(0.664)"/>
<polygon points="936.8,635.1 953.8,635.1 955.1,668.1 948,668.6 946.2,645.3 944.4,673.2 937.8,672.7" fill="#5B5B60" stroke="#5B5B60" stroke-width="0.5" />
<ellipse cx="942.4" cy="674.4" rx="6.09" ry="2.54" fill="#7A5238" transform="rotate(15 942.4 674.4)" />
<ellipse cx="954.6" cy="670.1" rx="6.09" ry="2.54" fill="#7A5238" transform="rotate(15 954.6 670.1)" />
<path d="M936 608.5 C937.1 603.2 940.8 604.7 943.6 604.7 C946.4 604.7 951.2 603.4 953 608.5 C954.8 613.6 957.3 630.5 954.6 635.1 C951.9 639.8 939.9 640.8 936.8 636.4 C933.7 632.0 934.9 613.8 936 608.5Z" fill="#C2186E" />
<polyline points="937.3,611 951.3,627.5 957.1,609.8" fill="none" stroke="#F4F4F4" stroke-width="3.4" stroke-linejoin="round" stroke-linecap="round"/>
<polyline points="955.6,612.3 956.3,632.6" fill="none" stroke="#F4F4F4" stroke-width="2.6" stroke-linecap="round"/>
<ellipse cx="957.1" cy="635.9" rx="2.03" ry="2.54" fill="#8A5A3C" />
<ellipse cx="944.2" cy="598.4" rx="5.58" ry="7.1" fill="#8A5A3C" />
<path d="M938.6 595.8 C938.6 594.1 938.9 591.4 941.1 590 C943.3 588.6 945.9 588.9 948 590 C950.1 591.1 950.7 593.6 950 594.6 C949.3 595.6 947.0 593.5 944.9 594.1 C942.8 594.7 942.6 596.7 941.1 597.1 C939.6 597.5 938.6 597.5 938.6 595.8Z" fill="#2A1C14" />
<polygon points="955.8,601.7 959.6,603.2 958.6,608.8 955.1,607.2" fill="#3A3A60" stroke="#3A3A60" stroke-width="0.5" />
<use href="#corn" transform="translate(794 602.9) scale(0.654)"/>
<use href="#corn" transform="translate(809.2 615.6) scale(0.654)"/>
<use href="#corn" transform="translate(827.7 622) scale(0.654)"/>
<use href="#corn" transform="translate(843.5 633.4) scale(0.654)"/>
<use href="#corn" transform="translate(863.3 639.7) scale(0.654)"/>
<use href="#corn" transform="translate(879 651.1) scale(0.654)"/>
<use href="#corn" transform="translate(898 658.7) scale(0.654)"/>
<use href="#corn" transform="translate(913.7 667.6) scale(0.654)"/>
<use href="#corn" transform="translate(759.8 623.2) scale(0.654)"/>
<use href="#corn" transform="translate(775.8 634.6) scale(0.654)"/>
<use href="#corn" transform="translate(794 641) scale(0.654)"/>
<use href="#corn" transform="translate(809.2 652.4) scale(0.654)"/>
<use href="#corn" transform="translate(827.7 658.7) scale(0.654)"/>
<use href="#corn" transform="translate(843.5 670.1) scale(0.654)"/>
<use href="#corn" transform="translate(863.3 676.5) scale(0.654)"/>
<use href="#corn" transform="translate(879 687.9) scale(0.654)"/>
<polygon points="1022.3,679.5 1071.7,652.9 1102.2,698.5 1054,701.1" fill="#B4DB70" stroke="#B4DB70" stroke-width="0.5" />
<polygon points="908.1,734 985.5,693.5 995.6,750 929.7,750" fill="#B4DB70" stroke="#B4DB70" stroke-width="0.5" />
<polygon points="1071.7,650.4 1081.9,644.8 1102.2,654.9 1092,660.5" fill="#F9D85B" stroke="#F9D85B" stroke-width="0.5" />
<polygon points="1071.7,650.4 1092,660.5 1092,668.1 1071.7,658" fill="#EDC043" stroke="#EDC043" stroke-width="0.5" />
<polygon points="1092,660.5 1102.2,654.9 1102.2,662.5 1092,668.1" fill="#F4CC4E" stroke="#F4CC4E" stroke-width="0.5" />
<polygon points="1100.9,663.5 1111,658 1131.3,668.1 1121.2,673.7" fill="#F9D85B" stroke="#F9D85B" stroke-width="0.5" />
<polygon points="1100.9,663.5 1121.2,673.7 1121.2,681.3 1100.9,671.2" fill="#EDC043" stroke="#EDC043" stroke-width="0.5" />
<polygon points="1121.2,673.7 1131.3,668.1 1131.3,675.7 1121.2,681.3" fill="#F4CC4E" stroke="#F4CC4E" stroke-width="0.5" />
<polygon points="1048.9,661.8 1059,656.2 1079.3,666.3 1069.2,671.9" fill="#F9D85B" stroke="#F9D85B" stroke-width="0.5" />
<polygon points="1048.9,661.8 1069.2,671.9 1069.2,679.5 1048.9,669.4" fill="#EDC043" stroke="#EDC043" stroke-width="0.5" />
<polygon points="1069.2,671.9 1079.3,666.3 1079.3,673.9 1069.2,679.5" fill="#F4CC4E" stroke="#F4CC4E" stroke-width="0.5" />
<polygon points="1078.1,675 1088.2,669.4 1108.5,679.5 1098.4,685.1" fill="#F9D85B" stroke="#F9D85B" stroke-width="0.5" />
<polygon points="1078.1,675 1098.4,685.1 1098.4,692.7 1078.1,682.6" fill="#EDC043" stroke="#EDC043" stroke-width="0.5" />
<polygon points="1098.4,685.1 1108.5,679.5 1108.5,687.1 1098.4,692.7" fill="#F4CC4E" stroke="#F4CC4E" stroke-width="0.5" />
<polygon points="1028.6,673.2 1038.8,667.6 1059,677.7 1048.9,683.3" fill="#F9D85B" stroke="#F9D85B" stroke-width="0.5" />
<polygon points="1028.6,673.2 1048.9,683.3 1048.9,690.9 1028.6,680.8" fill="#EDC043" stroke="#EDC043" stroke-width="0.5" />
<polygon points="1048.9,683.3 1059,677.7 1059,685.4 1048.9,690.9" fill="#F4CC4E" stroke="#F4CC4E" stroke-width="0.5" />
<polygon points="1057.8,686.4 1067.9,680.8 1088.2,690.9 1078.1,696.5" fill="#F9D85B" stroke="#F9D85B" stroke-width="0.5" />
<polygon points="1057.8,686.4 1078.1,696.5 1078.1,704.1 1057.8,694" fill="#EDC043" stroke="#EDC043" stroke-width="0.5" />
<polygon points="1078.1,696.5 1088.2,690.9 1088.2,698.5 1078.1,704.1" fill="#F4CC4E" stroke="#F4CC4E" stroke-width="0.5" />
<polygon points="984.2,692.2 994.4,686.6 1014.7,696.8 1004.5,702.3" fill="#F9D85B" stroke="#F9D85B" stroke-width="0.5" />
<polygon points="984.2,692.2 1004.5,702.3 1004.5,710 984.2,699.8" fill="#EDC043" stroke="#EDC043" stroke-width="0.5" />
<polygon points="1004.5,702.3 1014.7,696.8 1014.7,704.4 1004.5,710" fill="#F4CC4E" stroke="#F4CC4E" stroke-width="0.5" />
<polygon points="1013.4,706.2 1023.5,700.6 1043.8,710.7 1033.7,716.3" fill="#F9D85B" stroke="#F9D85B" stroke-width="0.5" />
<polygon points="1013.4,706.2 1033.7,716.3 1033.7,723.9 1013.4,713.8" fill="#EDC043" stroke="#EDC043" stroke-width="0.5" />
<polygon points="1033.7,716.3 1043.8,710.7 1043.8,718.3 1033.7,723.9" fill="#F4CC4E" stroke="#F4CC4E" stroke-width="0.5" />
<polygon points="960.1,703.6 970.3,698 990.6,708.2 980.4,713.8" fill="#F9D85B" stroke="#F9D85B" stroke-width="0.5" />
<polygon points="960.1,703.6 980.4,713.8 980.4,721.4 960.1,711.2" fill="#EDC043" stroke="#EDC043" stroke-width="0.5" />
<polygon points="980.4,713.8 990.6,708.2 990.6,715.8 980.4,721.4" fill="#F4CC4E" stroke="#F4CC4E" stroke-width="0.5" />
<polygon points="989.3,717.6 999.4,712 1019.7,722.1 1009.6,727.7" fill="#F9D85B" stroke="#F9D85B" stroke-width="0.5" />
<polygon points="989.3,717.6 1009.6,727.7 1009.6,735.3 989.3,725.2" fill="#EDC043" stroke="#EDC043" stroke-width="0.5" />
<polygon points="1009.6,727.7 1019.7,722.1 1019.7,729.7 1009.6,735.3" fill="#F4CC4E" stroke="#F4CC4E" stroke-width="0.5" />
<polygon points="937.3,715 947.5,709.4 967.7,719.6 957.6,725.2" fill="#F9D85B" stroke="#F9D85B" stroke-width="0.5" />
<polygon points="937.3,715 957.6,725.2 957.6,732.8 937.3,722.6" fill="#EDC043" stroke="#EDC043" stroke-width="0.5" />
<polygon points="957.6,725.2 967.7,719.6 967.7,727.2 957.6,732.8" fill="#F4CC4E" stroke="#F4CC4E" stroke-width="0.5" />
<polygon points="966.5,729 976.6,723.4 996.9,733.5 986.8,739.1" fill="#F9D85B" stroke="#F9D85B" stroke-width="0.5" />
<polygon points="966.5,729 986.8,739.1 986.8,746.7 966.5,736.6" fill="#EDC043" stroke="#EDC043" stroke-width="0.5" />
<polygon points="986.8,739.1 996.9,733.5 996.9,741.1 986.8,746.7" fill="#F4CC4E" stroke="#F4CC4E" stroke-width="0.5" />
<polygon points="915.7,726.4 925.9,720.9 946.2,731 936,736.6" fill="#F9D85B" stroke="#F9D85B" stroke-width="0.5" />
<polygon points="915.7,726.4 936,736.6 936,744.2 915.7,734" fill="#EDC043" stroke="#EDC043" stroke-width="0.5" />
<polygon points="936,736.6 946.2,731 946.2,738.6 936,744.2" fill="#F4CC4E" stroke="#F4CC4E" stroke-width="0.5" />
<polygon points="943.6,740.4 953.8,734.8 974.1,745 963.9,750.5" fill="#F9D85B" stroke="#F9D85B" stroke-width="0.5" />
<polygon points="943.6,740.4 963.9,750.5 963.9,758.1 943.6,748" fill="#EDC043" stroke="#EDC043" stroke-width="0.5" />
<polygon points="963.9,750.5 974.1,745 974.1,752.6 963.9,758.1" fill="#F4CC4E" stroke="#F4CC4E" stroke-width="0.5" />
<polyline points="1071.7,729 1071.7,741.1" fill="none" stroke="#C9CDD0" stroke-width="1.2" />
<polyline points="1076.3,729 1076.3,739.3" fill="none" stroke="#C9CDD0" stroke-width="1.2" />
<polyline points="1080.9,729 1080.9,737.5" fill="none" stroke="#C9CDD0" stroke-width="1.2" />
<polygon points="1065.4,715 1075.5,709.2 1086.9,713.8 1076.8,719.6" fill="#5A5A5E" stroke="#5A5A5E" stroke-width="0.5" />
<polygon points="1065.4,715 1076.8,719.6 1076.8,732 1065.4,726.9" fill="#2E2E31" stroke="#2E2E31" stroke-width="0.5" />
<polygon points="1076.8,719.6 1086.9,713.8 1086.9,726.4 1076.8,732" fill="#3E3E42" stroke="#3E3E42" stroke-width="0.5" />
<ellipse cx="1076" cy="714.3" rx="1.52" ry="1.01" fill="#F0F0F0" />
<ellipse cx="823.7" cy="726.6" rx="5.07" ry="3.04" fill="#E9B999" opacity="0.85"/>
<ellipse cx="804.2" cy="740.6" rx="5.07" ry="3.04" fill="#E9B999" opacity="0.85"/>
<ellipse cx="820.6" cy="739.3" rx="5.07" ry="3.04" fill="#E9B999" opacity="0.85"/>
<ellipse cx="783.1" cy="746.9" rx="5.07" ry="3.04" fill="#E9B999" opacity="0.85"/>
<ellipse cx="797.3" cy="750.7" rx="5.07" ry="3.04" fill="#E9B999" opacity="0.85"/>
<ellipse cx="818.6" cy="752" rx="5.07" ry="3.04" fill="#E9B999" opacity="0.85"/>
<ellipse cx="833.8" cy="746.2" rx="5.07" ry="3.04" fill="#E9B999" opacity="0.85"/>
<ellipse cx="804.9" cy="759.6" rx="5.07" ry="3.04" fill="#E9B999" opacity="0.85"/>
<g opacity="1">
<polyline points="734.4,687.1 754.2,694.7" fill="none" stroke="#BCC5CA" stroke-width="14" stroke-linecap="butt"/>
<ellipse cx="734.4" cy="687.1" rx="3.85" ry="7" fill="#BCC5CA" transform="rotate(27 734.4 687.1)" />
<ellipse cx="754.2" cy="694.7" rx="3.85" ry="7" fill="#E3EEF5" transform="rotate(27 754.2 694.7)" />
</g>
<polygon points="480.5,669.3 516,651.6 637.9,713.1 603.6,730.9" fill="#9B7A52" stroke="#9B7A52" stroke-width="0.5" />
<polygon points="516,599.1 637.9,661.3 637.9,723.8 516,663.4" fill="#E8735F" stroke="#E8735F" stroke-width="0.5" />
<polygon points="637.9,663.4 691.1,637.4 691.1,695.9 637.9,723.8" fill="#EA8069" stroke="#EA8069" stroke-width="0.5" />
<polygon points="519.5,609 555,626.7 555,677.6 519.5,660.4" fill="#1E88A2" stroke="#1E88A2" stroke-width="0.5" />
<polygon points="524.3,617.3 550.3,630.3 550.3,652.8 524.3,639.8" fill="#2E2F34" stroke="#2E2F34" stroke-width="0.5" />
<polygon points="559.8,635 594.1,652.8 594.1,694.2 559.8,676.9" fill="#2E2F34" stroke="#2E2F34" stroke-width="0.5" />
<polygon points="598.3,649.2 633.1,667 633.1,713.1 598.3,695.4" fill="#1E88A2" stroke="#1E88A2" stroke-width="0.5" />
<polygon points="603.1,657.5 629.1,670.5 629.1,691.8 603.1,678.8" fill="#2E2F34" stroke="#2E2F34" stroke-width="0.5" />
<polygon points="511.2,597.2 563.3,571.1 693.5,635 639.1,662.2" fill="#C4C4C4" stroke="#C4C4C4" stroke-width="0.5" />
<polygon points="511.2,597.2 563.3,571.1 572.6,575.7 520.4,601.8" fill="#DADADA" stroke="#DADADA" stroke-width="0.5" />
<polygon points="520.4,601.8 572.6,575.7 581.9,580.3 529.5,606.5" fill="#B4B4B4" stroke="#B4B4B4" stroke-width="0.5" />
<ellipse cx="520.4" cy="601.8" rx="8.52" ry="3.31" fill="#C9C9C9" transform="rotate(27 520.4 601.8)" />
<polygon points="529.5,606.5 581.9,580.3 591.2,584.8 538.6,611.1" fill="#DADADA" stroke="#DADADA" stroke-width="0.5" />
<polygon points="538.6,611.1 591.2,584.8 600.5,589.4 547.8,615.8" fill="#B4B4B4" stroke="#B4B4B4" stroke-width="0.5" />
<ellipse cx="538.6" cy="611.1" rx="8.52" ry="3.31" fill="#C9C9C9" transform="rotate(27 538.6 611.1)" />
<polygon points="547.8,615.8 600.5,589.4 609.8,593.9 556.9,620.4" fill="#DADADA" stroke="#DADADA" stroke-width="0.5" />
<polygon points="556.9,620.4 609.8,593.9 619.1,598.5 566,625.1" fill="#B4B4B4" stroke="#B4B4B4" stroke-width="0.5" />
<ellipse cx="556.9" cy="620.4" rx="8.52" ry="3.31" fill="#C9C9C9" transform="rotate(27 556.9 620.4)" />
<polygon points="566,625.1 619.1,598.5 628.4,603.1 575.1,629.7" fill="#DADADA" stroke="#DADADA" stroke-width="0.5" />
<polygon points="575.1,629.7 628.4,603.1 637.7,607.6 584.3,634.4" fill="#B4B4B4" stroke="#B4B4B4" stroke-width="0.5" />
<ellipse cx="575.1" cy="629.7" rx="8.52" ry="3.31" fill="#C9C9C9" transform="rotate(27 575.1 629.7)" />
<polygon points="584.3,634.4 637.7,607.6 647,612.2 593.4,639" fill="#DADADA" stroke="#DADADA" stroke-width="0.5" />
<polygon points="593.4,639 647,612.2 656.3,616.8 602.5,643.7" fill="#B4B4B4" stroke="#B4B4B4" stroke-width="0.5" />
<ellipse cx="593.4" cy="639" rx="8.52" ry="3.31" fill="#C9C9C9" transform="rotate(27 593.4 639)" />
<polygon points="602.5,643.7 656.3,616.8 665.6,621.3 611.7,648.3" fill="#DADADA" stroke="#DADADA" stroke-width="0.5" />
<polygon points="611.7,648.3 665.6,621.3 674.9,625.9 620.8,653" fill="#B4B4B4" stroke="#B4B4B4" stroke-width="0.5" />
<ellipse cx="611.7" cy="648.3" rx="8.52" ry="3.31" fill="#C9C9C9" transform="rotate(27 611.7 648.3)" />
<polygon points="620.8,653 674.9,625.9 684.2,630.5 629.9,657.6" fill="#DADADA" stroke="#DADADA" stroke-width="0.5" />
<polygon points="629.9,657.6 684.2,630.5 693.5,635 639.1,662.2" fill="#B4B4B4" stroke="#B4B4B4" stroke-width="0.5" />
<ellipse cx="629.9" cy="657.6" rx="8.52" ry="3.31" fill="#C9C9C9" transform="rotate(27 629.9 657.6)" />
<polygon points="639.1,662.2 693.5,635 693.5,638.1 639.1,665.3" fill="#AFAFAF" stroke="#AFAFAF" stroke-width="0.5" />
<polyline points="600.5,565.2 600.5,574.7" fill="none" stroke="#3C3C3C" stroke-width="0.8" />
<polygon points="596.9,574.7 604,574.7 604,587.7 596.9,587.7" fill="#4A4A4C" stroke="#4A4A4C" stroke-width="0.5" />
<ellipse cx="600.5" cy="574.7" rx="3.55" ry="1.42" fill="#5E5E60" />
<polygon points="480.5,669.3 603.6,730.9 603.6,742.2 480.5,681.2" fill="#7E5F3B" stroke="#7E5F3B" stroke-width="0.5" />
<polygon points="603.6,730.9 637.9,713.1 637.9,724.3 603.6,742.2" fill="#8B6A44" stroke="#8B6A44" stroke-width="0.5" />
<polygon points="517.2,668.2 570.4,694.2 570.4,723.8 517.2,696.6" fill="#8B6A44" stroke="#8B6A44" stroke-width="0.5" />
<polygon points="488,651.1 504.6,642.8 510.5,646.4 510.5,655.9 494,664.1 488,660.6" fill="#B8574A" stroke="#B8574A" stroke-width="0.5" />
<polygon points="494,654.7 510.5,646.4 510.5,655.9 494,664.1" fill="#C9685A" stroke="#C9685A" stroke-width="0.5" />
<polyline points="492.3,644.3 492.8,654.2" fill="none" stroke="#3FA34D" stroke-width="1.6" />
<polyline points="489.5,649 492.8,654.2 495.6,648.5" fill="none" stroke="#4DB356" stroke-width="1.4" />
<ellipse cx="492.3" cy="642.4" rx="1.89" ry="3.55" fill="#C2186B" />
<polyline points="497,641.9 497.5,651.8" fill="none" stroke="#3FA34D" stroke-width="1.6" />
<polyline points="494.2,646.6 497.5,651.8 500.4,646.2" fill="none" stroke="#4DB356" stroke-width="1.4" />
<ellipse cx="497" cy="640" rx="1.89" ry="3.55" fill="#C2186B" />
<polyline points="501.8,645.2 502.2,655.1" fill="none" stroke="#3FA34D" stroke-width="1.6" />
<polyline points="498.9,649.9 502.2,655.1 505.1,649.5" fill="none" stroke="#4DB356" stroke-width="1.4" />
<ellipse cx="501.8" cy="643.3" rx="1.89" ry="3.55" fill="#C2186B" />
<polyline points="495.1,647.1 495.6,657" fill="none" stroke="#3FA34D" stroke-width="1.6" />
<polyline points="492.3,651.8 495.6,657 498.5,651.4" fill="none" stroke="#4DB356" stroke-width="1.4" />
<ellipse cx="495.1" cy="645.2" rx="1.89" ry="3.55" fill="#C2186B" />
<polyline points="500.4,648.5 500.8,658.5" fill="none" stroke="#3FA34D" stroke-width="1.6" />
<polyline points="497.5,653.3 500.8,658.5 503.7,652.8" fill="none" stroke="#4DB356" stroke-width="1.4" />
<ellipse cx="500.4" cy="646.6" rx="1.89" ry="3.55" fill="#C2186B" />
<polygon points="575.6,696.1 592.2,687.8 598.1,691.4 598.1,700.8 581.5,709.1 575.6,705.6" fill="#B8574A" stroke="#B8574A" stroke-width="0.5" />
<polygon points="581.5,699.6 598.1,691.4 598.1,700.8 581.5,709.1" fill="#C9685A" stroke="#C9685A" stroke-width="0.5" />
<polyline points="579.9,689.2 580.4,699.2" fill="none" stroke="#3FA34D" stroke-width="1.6" />
<polyline points="577,694 580.4,699.2 583.2,693.5" fill="none" stroke="#4DB356" stroke-width="1.4" />
<ellipse cx="579.9" cy="687.3" rx="1.89" ry="3.55" fill="#C2186B" />
<polyline points="584.6,686.9 585.1,696.8" fill="none" stroke="#3FA34D" stroke-width="1.6" />
<polyline points="581.8,691.6 585.1,696.8 587.9,691.1" fill="none" stroke="#4DB356" stroke-width="1.4" />
<ellipse cx="584.6" cy="685" rx="1.89" ry="3.55" fill="#C2186B" />
<polyline points="589.3,690.2 589.8,700.1" fill="none" stroke="#3FA34D" stroke-width="1.6" />
<polyline points="586.5,694.9 589.8,700.1 592.7,694.4" fill="none" stroke="#4DB356" stroke-width="1.4" />
<ellipse cx="589.3" cy="688.3" rx="1.89" ry="3.55" fill="#C2186B" />
<polyline points="582.7,692.1 583.2,702" fill="none" stroke="#3FA34D" stroke-width="1.6" />
<polyline points="579.9,696.8 583.2,702 586,696.3" fill="none" stroke="#4DB356" stroke-width="1.4" />
<ellipse cx="582.7" cy="690.2" rx="1.89" ry="3.55" fill="#C2186B" />
<polyline points="587.9,693.5 588.4,703.4" fill="none" stroke="#3FA34D" stroke-width="1.6" />
<polyline points="585.1,698.2 588.4,703.4 591.2,697.8" fill="none" stroke="#4DB356" stroke-width="1.4" />
<ellipse cx="587.9" cy="691.6" rx="1.89" ry="3.55" fill="#C2186B" />
<polygon points="480.7,643.3 485,644.3 485,682.1 480.7,681.2" fill="#8B6A44" stroke="#8B6A44" stroke-width="0.5" />
<polygon points="480.7,643.3 482.4,643.8 482.4,681.7 480.7,681.2" fill="#7E5F3B" stroke="#7E5F3B" stroke-width="0.5" />
<polygon points="513.1,627.9 517.4,628.9 517.4,697.5 513.1,696.6" fill="#8B6A44" stroke="#8B6A44" stroke-width="0.5" />
<polygon points="513.1,627.9 514.8,628.4 514.8,697 513.1,696.6" fill="#7E5F3B" stroke="#7E5F3B" stroke-width="0.5" />
<polygon points="568.3,687.8 572.5,688.8 572.5,725.9 568.3,725" fill="#8B6A44" stroke="#8B6A44" stroke-width="0.5" />
<polygon points="568.3,687.8 569.9,688.3 569.9,725.4 568.3,725" fill="#7E5F3B" stroke="#7E5F3B" stroke-width="0.5" />
<polygon points="600.2,703.7 604.5,704.6 604.5,741.3 600.2,740.4" fill="#8B6A44" stroke="#8B6A44" stroke-width="0.5" />
<polygon points="600.2,703.7 601.9,704.1 601.9,740.8 600.2,740.4" fill="#7E5F3B" stroke="#7E5F3B" stroke-width="0.5" />
<polygon points="632.7,688.3 636.9,689.2 636.9,724.7 632.7,723.8" fill="#8B6A44" stroke="#8B6A44" stroke-width="0.5" />
<polygon points="632.7,688.3 634.3,688.8 634.3,724.3 632.7,723.8" fill="#7E5F3B" stroke="#7E5F3B" stroke-width="0.5" />
<polyline points="482.8,652.8 515.3,636.7" fill="none" stroke="#8B6A44" stroke-width="2.4" />
<polyline points="570.4,698.9 602.4,714.8" fill="none" stroke="#8B6A44" stroke-width="2.4" />
<polyline points="602.4,713.1 634.8,697.3" fill="none" stroke="#8B6A44" stroke-width="2.4" />
<polyline points="482.8,663.4 515.3,647.3" fill="none" stroke="#8B6A44" stroke-width="2.4" />
<polyline points="570.4,709.6 602.4,725.4" fill="none" stroke="#8B6A44" stroke-width="2.4" />
<polyline points="602.4,723.8 634.8,707.9" fill="none" stroke="#8B6A44" stroke-width="2.4" />
<polyline points="482.8,677.6 515.3,694.2" fill="none" stroke="#7E5F3B" stroke-width="1.5" />
<use href="#corn" transform="translate(678.6 735.3) scale(0.609)"/>
<use href="#corn" transform="translate(711.6 741.7) scale(0.680)"/>
<use href="#corn" transform="translate(695.9 749.8) scale(0.832)"/>
<polygon points="408.3,718.4 430.6,720.8 525.2,760.3 507.7,767.8" fill="#856543" stroke="#856543" stroke-width="0.5" />
<polygon points="408.3,718.4 507.7,767.8 507.7,790.1 471.1,786.3 408.3,754.9" fill="#8F6F4D" stroke="#8F6F4D" stroke-width="0.5" />
<polygon points="429.2,725.4 441.4,723.8 446.1,729.5 434.6,731.2" fill="#2DBE6C" stroke="#2DBE6C" stroke-width="0.5" />
<polygon points="463.7,790.8 535.4,754.9 563.1,778.6 492.1,812.4" fill="#A08360" stroke="#A08360" stroke-width="0.5" />
<polygon points="468.4,791.2 535.4,757.6 559.7,778.6 492.4,810.4" fill="#856543" stroke="#856543" stroke-width="0.5" />
<polygon points="468.4,791.2 535.4,757.6 535.4,765.7 471.1,797.5" fill="#94744F" stroke="#94744F" stroke-width="0.5" />
<polygon points="472.5,796.2 494.1,784.7 519.8,796.8 492.8,809.7" fill="#F4D42A" stroke="#F4D42A" stroke-width="0.5" />
<polyline points="476.6,796.8 496.8,806.3" fill="none" stroke="#D9B81B" stroke-width="0.8" />
<polyline points="481.3,794.4 501.6,803.9" fill="none" stroke="#D9B81B" stroke-width="0.8" />
<polyline points="486,792 506.3,801.4" fill="none" stroke="#D9B81B" stroke-width="0.8" />
<polyline points="490.8,789.5 511,799" fill="none" stroke="#D9B81B" stroke-width="0.8" />
<polyline points="495.5,787.1 515.8,796.6" fill="none" stroke="#D9B81B" stroke-width="0.8" />
<polygon points="505,777.9 532,763.7 546.9,779.3 525.2,793.5 506.3,784.7" fill="#E0424C" stroke="#E0424C" stroke-width="0.5" />
<polyline points="509,776.6 523.9,790.1" fill="none" stroke="#C8333E" stroke-width="0.8" />
<polyline points="514.4,774.1 528.6,787.6" fill="none" stroke="#C8333E" stroke-width="0.8" />
<polyline points="519.8,771.7 533.4,785.2" fill="none" stroke="#C8333E" stroke-width="0.8" />
<polyline points="525.2,769.3 538.1,782.8" fill="none" stroke="#C8333E" stroke-width="0.8" />
<polyline points="530.7,766.8 542.8,780.3" fill="none" stroke="#C8333E" stroke-width="0.8" />
<polyline points="496.8,783.3 523.9,796.8" fill="none" stroke="#94744F" stroke-width="1.5" />
<polygon points="463.7,790.8 492.1,812.4 492.1,840.8 463.7,823.2" fill="#8F6F4D" stroke="#8F6F4D" stroke-width="0.5" />
<polygon points="492.1,812.4 563.1,778.6 563.1,807 492.1,840.8" fill="#A98D6E" stroke="#A98D6E" stroke-width="0.5" />
<polyline points="449.5,783.3 449.5,790.1" fill="none" stroke="#1E1A18" stroke-width="5" stroke-linecap="round" stroke-linejoin="round"/>
<polyline points="460.3,787.4 460.3,796.2" fill="none" stroke="#1E1A18" stroke-width="5" stroke-linecap="round" stroke-linejoin="round"/>
<path d="M444.1 730.6 C446.2 727.0 449.5 726.6 453.6 726.2 C457.7 725.8 461.4 726.3 464.4 728.5 C467.4 730.7 467.7 730.9 468.7 737.3 C469.7 743.7 470.0 755.0 469.5 760.3 C469.0 765.6 466.6 758.8 466 763.7 C465.4 768.6 467.6 779.6 466.5 784.7 C465.4 789.8 464.2 789.4 460.3 789.4 C456.4 789.4 449.8 789.4 446.8 784.7 C443.8 780.0 446.0 773.8 445.2 765.7 C444.4 757.6 443.2 751.1 443 744.1 C442.8 737.1 442.0 734.2 444.1 730.6Z" fill="#6BBF3B" />
<ellipse cx="456.9" cy="719.1" rx="5.68" ry="7.03" fill="#5B3B28" />
<path d="M450.2 719.8 C450.0 717.1 449.8 714.5 451.5 712.3 C453.2 710.1 455.1 710.0 457.6 710.3 C460.1 710.6 461.8 712.1 462.4 713.7 C463.0 715.3 462.1 715.7 460.3 717 C458.6 718.3 456.8 717.5 454.9 719.1 C453.0 720.7 453.3 723.6 452.2 723.8 C451.1 724.0 450.4 722.5 450.2 719.8Z" fill="#33241A" />
<polyline points="466.4,750.9 467.4,763" fill="none" stroke="#5B3B28" stroke-width="1.6" />
<polyline points="615.2,802.3 615.6,815.8 619.9,817.8" fill="none" stroke="#1E1A18" stroke-width="5" stroke-linecap="round" stroke-linejoin="round"/>
<polyline points="627.4,805 628,821.9 633.4,821.9" fill="none" stroke="#1E1A18" stroke-width="5" stroke-linecap="round" stroke-linejoin="round"/>
<path d="M611.8 754.9 C613.6 750.9 616.0 750.9 619.9 750.9 C623.8 750.9 627.9 752.1 631.4 754.9 C634.9 757.7 635.5 762.7 637.5 765.1 C639.5 767.5 641.2 765.5 641.6 767.1 C642.0 768.7 641.0 772.7 639.5 773.2 C638.0 773.7 635.4 763.4 634.1 769.8 C632.8 776.2 637.3 798.8 632.8 805 C628.3 811.2 616.2 807.7 611.8 800.9 C607.4 794.1 610.7 780.3 610.7 771.1 C610.7 761.9 610.0 758.9 611.8 754.9Z" fill="#5B86E5" />
<ellipse cx="620.2" cy="744.1" rx="6.49" ry="9.47" fill="#F7D68C" />
<polyline points="640.2,769.1 649,763" fill="none" stroke="#1E1A18" stroke-width="3.2" stroke-linecap="round"/>
<polygon points="644.9,746.8 652.4,750.2 650.3,762.4 643.2,758.3" fill="#7FD9F2" stroke="#E9FAFF" stroke-width="0.8" />
<ellipse cx="654.4" cy="802.3" rx="4.73" ry="1.89" fill="#8A5A3C" transform="rotate(-20 654.4 802.3)" />
<ellipse cx="666.6" cy="807" rx="4.73" ry="1.89" fill="#8A5A3C" transform="rotate(-20 666.6 807)" />
<polyline points="657.1,792.8 655.8,801.6" fill="none" stroke="#7A4A30" stroke-width="2.5" />
<polyline points="668.6,796.8 667.9,806.3" fill="none" stroke="#7A4A30" stroke-width="2.5" />
<path d="M656.7 735.3 C659.2 732.9 663.3 732.3 667.3 732.2 C671.3 732.1 674.2 732.5 676.7 734.9 C679.2 737.3 679.3 736.9 679.7 744.1 C680.1 751.3 679.7 765.3 678.9 771.1 C678.1 776.9 676.5 768.3 675.6 773.2 C674.7 778.1 676.5 790.7 674.3 795.5 C672.1 800.3 668.4 797.6 664.5 797.1 C660.6 796.6 656.8 800.7 654.8 792.8 C652.8 784.9 654.4 767.3 654.4 757.6 C654.4 747.9 654.3 748.6 654.8 744.1 C655.3 739.6 654.2 737.7 656.7 735.3Z" fill="#C2186E" />
<ellipse cx="667" cy="725.4" rx="5.41" ry="7.03" fill="#5E3626" />
<path d="M661.2 721.8 C661.2 720.7 663.2 718.8 664.5 717 C665.8 715.2 665.3 714.8 666.6 714.3 C667.9 713.8 668.7 713.9 670 715 C671.3 716.1 672.3 717.8 672 719.1 C671.7 720.4 670.4 719.8 668.6 720.4 C666.9 721.0 666.2 721.5 664.5 721.8 C662.8 722.1 661.2 722.9 661.2 721.8Z" fill="#2A1E2E" />
<polyline points="720.5,795.6 786.4,767.7" fill="none" stroke="#8B6B4A" stroke-width="1.8" />
<polyline points="720.5,800.7 786.4,772.8" fill="none" stroke="#8B6B4A" stroke-width="1.8" />
<polyline points="720.5,790.5 720.5,804.7" fill="none" stroke="#8B6B4A" stroke-width="2.6" />
<polyline points="733.7,785 733.7,799.2" fill="none" stroke="#8B6B4A" stroke-width="2.6" />
<polyline points="746.8,779.4 746.8,793.6" fill="none" stroke="#8B6B4A" stroke-width="2.6" />
<polyline points="760,773.8 760,788" fill="none" stroke="#8B6B4A" stroke-width="2.6" />
<polyline points="773.2,768.2 773.2,782.4" fill="none" stroke="#8B6B4A" stroke-width="2.6" />
<polyline points="786.4,762.6 786.4,776.8" fill="none" stroke="#8B6B4A" stroke-width="2.6" />
<polyline points="786.4,767.7 849.8,823.5" fill="none" stroke="#8B6B4A" stroke-width="1.8" />
<polyline points="786.4,772.8 849.8,828.6" fill="none" stroke="#8B6B4A" stroke-width="1.8" />
<polyline points="786.4,762.6 786.4,776.8" fill="none" stroke="#8B6B4A" stroke-width="2.6" />
<polyline points="799.1,773.8 799.1,788" fill="none" stroke="#8B6B4A" stroke-width="2.6" />
<polyline points="811.8,785 811.8,799.2" fill="none" stroke="#8B6B4A" stroke-width="2.6" />
<polyline points="824.4,796.1 824.4,810.3" fill="none" stroke="#8B6B4A" stroke-width="2.6" />
<polyline points="837.1,807.3 837.1,821.5" fill="none" stroke="#8B6B4A" stroke-width="2.6" />
<polyline points="849.8,818.4 849.8,832.6" fill="none" stroke="#8B6B4A" stroke-width="2.6" />
<polyline points="767.4,812.9 766.9,818.4" fill="none" stroke="#E8D820" stroke-width="1.2" />
<polyline points="772.5,813.4 773,818.9" fill="none" stroke="#E8D820" stroke-width="1.2" />
<path d="M762.3 791.3 C764.1 789.1 764.9 788.1 766.4 789.5 C767.9 790.9 765.3 795.6 768.1 796.4 C770.9 797.2 773.4 793.3 777 792.6 C780.6 791.9 781.0 790.4 781.6 793.8 C782.2 797.2 781.3 800.0 779.1 805.2 C776.9 810.4 776.8 811.2 773.2 813.4 C769.6 815.6 769.0 815.2 765.6 813.4 C762.2 811.6 762.0 810.7 760.5 806.5 C759.0 802.3 759.3 801.7 759.8 797.6 C760.3 793.5 760.5 793.5 762.3 791.3Z" fill="#FFFFFF" />
<ellipse cx="764.3" cy="788.8" rx="2.28" ry="1.52" fill="#E33B2E" />
<polygon points="761.3,793.1 758.8,794.1 761.3,795.1" fill="#F0B429" stroke="#F0B429" stroke-width="0.5" />
<polyline points="805.4,826.3 804.9,831.9" fill="none" stroke="#E8D820" stroke-width="1.2" />
<polyline points="810.5,826.8 811,832.4" fill="none" stroke="#E8D820" stroke-width="1.2" />
<path d="M800.4 804.7 C802.2 802.5 802.9 801.6 804.4 803 C805.9 804.4 803.3 809.0 806.2 809.8 C809.1 810.6 811.5 806.7 815.1 806 C818.7 805.3 819.1 803.9 819.6 807.3 C820.1 810.7 819.3 813.5 817.1 818.7 C814.9 823.9 814.9 824.6 811.3 826.8 C807.7 829.0 807.1 828.6 803.7 826.8 C800.3 825.0 800.2 824.2 798.6 820 C797.0 815.8 797.3 815.2 797.8 811.1 C798.3 807.0 798.6 806.9 800.4 804.7Z" fill="#FFFFFF" />
<ellipse cx="802.4" cy="802.2" rx="2.28" ry="1.52" fill="#E33B2E" />
<polygon points="799.3,806.5 796.8,807.5 799.3,808.5" fill="#F0B429" stroke="#F0B429" stroke-width="0.5" />
<polyline points="720.5,795.6 766.1,870.4" fill="none" stroke="#8B6B4A" stroke-width="1.8" />
<polyline points="720.5,800.7 766.1,875.5" fill="none" stroke="#8B6B4A" stroke-width="1.8" />
<polyline points="720.5,790.5 720.5,804.7" fill="none" stroke="#8B6B4A" stroke-width="2.6" />
<polyline points="728.1,803 728.1,817.2" fill="none" stroke="#8B6B4A" stroke-width="2.6" />
<polyline points="735.7,815.5 735.7,829.7" fill="none" stroke="#8B6B4A" stroke-width="2.6" />
<polyline points="743.3,827.9 743.3,842.2" fill="none" stroke="#8B6B4A" stroke-width="2.6" />
<polyline points="750.9,840.4 750.9,854.6" fill="none" stroke="#8B6B4A" stroke-width="2.6" />
<polyline points="758.5,852.9 758.5,867.1" fill="none" stroke="#8B6B4A" stroke-width="2.6" />
<polyline points="766.1,865.4 766.1,879.6" fill="none" stroke="#8B6B4A" stroke-width="2.6" />
<polyline points="766.1,870.4 849.8,823.5" fill="none" stroke="#8B6B4A" stroke-width="1.8" />
<polyline points="766.1,875.5 849.8,828.6" fill="none" stroke="#8B6B4A" stroke-width="1.8" />
<polyline points="766.1,865.4 766.1,879.6" fill="none" stroke="#8B6B4A" stroke-width="2.6" />
<polyline points="778.1,858.7 778.1,872.9" fill="none" stroke="#8B6B4A" stroke-width="2.6" />
<polyline points="790,852 790,866.2" fill="none" stroke="#8B6B4A" stroke-width="2.6" />
<polyline points="802,845.2 802,859.5" fill="none" stroke="#8B6B4A" stroke-width="2.6" />
<polyline points="813.9,838.5 813.9,852.7" fill="none" stroke="#8B6B4A" stroke-width="2.6" />
<polyline points="825.9,831.8 825.9,846" fill="none" stroke="#8B6B4A" stroke-width="2.6" />
<polyline points="837.9,825.1 837.9,839.3" fill="none" stroke="#8B6B4A" stroke-width="2.6" />
<polyline points="849.8,818.4 849.8,832.6" fill="none" stroke="#8B6B4A" stroke-width="2.6" />
<g opacity="0.9">
<polyline points="896.7,819.2 915.7,826.8" fill="none" stroke="#A4B0B5" stroke-width="14" stroke-linecap="butt"/>
<ellipse cx="896.7" cy="819.2" rx="3.85" ry="7" fill="#A4B0B5" transform="rotate(27 896.7 819.2)" />
<ellipse cx="915.7" cy="826.8" rx="3.85" ry="7" fill="#C9D6DC" transform="rotate(27 915.7 826.8)" />
</g>
<polygon points="1440,681 1947,417.5 1947,533.5 1554,737.8" fill="url(#gband)" />
<polygon points="1947,417.5 2471,679.5 2355.2,737.6 1947,533.5" fill="#7FF7E6" />
<polygon points="1554,737.8 1947,533.5 2355.2,737.6 1956,938" fill="url(#gfloor)" />
<polygon points="1440,681 1956,938 1956,1054 1440,797" fill="#A0EAE8" />
<polygon points="1956,938 2471,679.5 2471,795.5 1956,1054" fill="#A8EEEC" />
<polygon points="2355.2,737.6 2471,679.5 2471,795.5" fill="#82F5E7" />
<polyline points="1440,797 1947,533.5 2471,795.5" fill="none" stroke="#2BA3F2" stroke-width="1.6" />
<polyline points="1440,681 1795.7,496.5" fill="none" stroke="#1C8FEF" stroke-width="2.6" stroke-linejoin="round" stroke-linecap="round"/>
<polyline points="2191,539.5 2471,679.5" fill="none" stroke="#1C8FEF" stroke-width="2.6" stroke-linejoin="round" stroke-linecap="round"/>
<polygon points="1467,607.3 1487.3,599.2 1495.5,595.4 1515.7,586.4 1572.5,614.1 1572.5,671.6 1526.6,695.2 1467,664.8" fill="#FF3CF0" filter="url(#glow2)" opacity="0.85"/>
<polygon points="1503.2,603.8 1523.4,593.7 1523.4,652.1 1503.2,662.2" fill="#F5A5F5" stroke="#FF45F2" stroke-width="0.8" fill-opacity="0.55" stroke-linejoin="round"/>
<polygon points="1488,596.2 1503.2,603.8 1503.2,662.2 1488,654.7" fill="#FA62F8" stroke="#FF45F2" stroke-width="0.8" fill-opacity="0.6" stroke-linejoin="round"/>
<polygon points="1488,596.2 1508.3,586.1 1523.4,593.7 1503.2,603.8" fill="#FC86FA" stroke="#FF45F2" stroke-width="0.8" fill-opacity="0.6" stroke-linejoin="round"/>
<polygon points="1518.3,611.4 1538.6,601.2 1538.6,659.7 1518.3,669.8" fill="#F5A5F5" stroke="#FF45F2" stroke-width="0.8" fill-opacity="0.55" stroke-linejoin="round"/>
<polygon points="1503.2,603.8 1518.3,611.4 1518.3,669.8 1503.2,662.2" fill="#FA62F8" stroke="#FF45F2" stroke-width="0.8" fill-opacity="0.6" stroke-linejoin="round"/>
<polygon points="1503.2,603.8 1523.4,593.7 1538.6,601.2 1518.3,611.4" fill="#FC86FA" stroke="#FF45F2" stroke-width="0.8" fill-opacity="0.6" stroke-linejoin="round"/>
<polygon points="1533.5,619 1553.7,608.8 1553.7,667.2 1533.5,677.4" fill="#F5A5F5" stroke="#FF45F2" stroke-width="0.8" fill-opacity="0.55" stroke-linejoin="round"/>
<polygon points="1518.3,611.4 1533.5,619 1533.5,677.4 1518.3,669.8" fill="#FA62F8" stroke="#FF45F2" stroke-width="0.8" fill-opacity="0.6" stroke-linejoin="round"/>
<polygon points="1518.3,611.4 1538.6,601.2 1553.7,608.8 1533.5,619" fill="#FC86FA" stroke="#FF45F2" stroke-width="0.8" fill-opacity="0.6" stroke-linejoin="round"/>
<polygon points="1548.6,626.5 1568.9,616.4 1568.9,674.8 1548.6,685" fill="#F5A5F5" stroke="#FF45F2" stroke-width="0.8" fill-opacity="0.55" stroke-linejoin="round"/>
<polygon points="1533.5,619 1548.6,626.5 1548.6,685 1533.5,677.4" fill="#FA62F8" stroke="#FF45F2" stroke-width="0.8" fill-opacity="0.6" stroke-linejoin="round"/>
<polygon points="1533.5,619 1553.7,608.8 1568.9,616.4 1548.6,626.5" fill="#FC86FA" stroke="#FF45F2" stroke-width="0.8" fill-opacity="0.6" stroke-linejoin="round"/>
<polygon points="1482.9,615.6 1503.2,605.4 1503.2,662.2 1482.9,672.4" fill="#F5A5F5" stroke="#FF45F2" stroke-width="0.8" fill-opacity="0.55" stroke-linejoin="round"/>
<polygon points="1467.7,608 1482.9,615.6 1482.9,672.4 1467.7,664.8" fill="#FA62F8" stroke="#FF45F2" stroke-width="0.8" fill-opacity="0.6" stroke-linejoin="round"/>
<polygon points="1467.7,608 1488,597.9 1503.2,605.4 1482.9,615.6" fill="#FC86FA" stroke="#FF45F2" stroke-width="0.8" fill-opacity="0.6" stroke-linejoin="round"/>
<polygon points="1498,623.2 1518.3,613 1518.3,669.8 1498,680" fill="#F5A5F5" stroke="#FF45F2" stroke-width="0.8" fill-opacity="0.55" stroke-linejoin="round"/>
<polygon points="1482.9,615.6 1498,623.2 1498,680 1482.9,672.4" fill="#FA62F8" stroke="#FF45F2" stroke-width="0.8" fill-opacity="0.6" stroke-linejoin="round"/>
<polygon points="1482.9,615.6 1503.2,605.4 1518.3,613 1498,623.2" fill="#FC86FA" stroke="#FF45F2" stroke-width="0.8" fill-opacity="0.6" stroke-linejoin="round"/>
<polygon points="1513.2,630.7 1533.5,620.6 1533.5,677.4 1513.2,687.5" fill="#F5A5F5" stroke="#FF45F2" stroke-width="0.8" fill-opacity="0.55" stroke-linejoin="round"/>
<polygon points="1498,623.2 1513.2,630.7 1513.2,687.5 1498,680" fill="#FA62F8" stroke="#FF45F2" stroke-width="0.8" fill-opacity="0.6" stroke-linejoin="round"/>
<polygon points="1498,623.2 1518.3,613 1533.5,620.6 1513.2,630.7" fill="#FC86FA" stroke="#FF45F2" stroke-width="0.8" fill-opacity="0.6" stroke-linejoin="round"/>
<polygon points="1528.3,638.3 1548.6,628.2 1548.6,685 1528.3,695.1" fill="#F5A5F5" stroke="#FF45F2" stroke-width="0.8" fill-opacity="0.55" stroke-linejoin="round"/>
<polygon points="1513.2,630.7 1528.3,638.3 1528.3,695.1 1513.2,687.5" fill="#FA62F8" stroke="#FF45F2" stroke-width="0.8" fill-opacity="0.6" stroke-linejoin="round"/>
<polygon points="1513.2,630.7 1533.5,620.6 1548.6,628.2 1528.3,638.3" fill="#FC86FA" stroke="#FF45F2" stroke-width="0.8" fill-opacity="0.6" stroke-linejoin="round"/>
<polygon points="1621.9,508.6 1699.4,546.6 1527.6,633.7 1450.7,593.5" fill="none" stroke="#1C8FEF" stroke-width="1.1" stroke-linejoin="round"/>
<polyline points="1450.7,593.5 1450.7,672.8 1527.6,717.2 1699.4,631.2 1699.4,546.6" fill="none" stroke="#1C8FEF" stroke-width="1.1" stroke-linejoin="round"/>
<polyline points="1527.6,633.7 1527.6,717.2" fill="none" stroke="#1C8FEF" stroke-width="1.1" stroke-linejoin="round"/>
<polyline points="1621.2,586.1 1591,635.4 1666.7,598.2" fill="none" stroke="#1C8FEF" stroke-width="1.1" stroke-linejoin="round"/>
<polyline points="1604.3,629.5 1604.3,678.7" fill="none" stroke="#1C8FEF" stroke-width="1.1" stroke-linejoin="round"/>
<polyline points="1654,605.2 1654,654.8" fill="none" stroke="#1C8FEF" stroke-width="1.1" stroke-linejoin="round"/>
<polygon points="1795.7,496.5 1829.3,474.1 1842.5,466.4 1893.1,438.9 1898.6,436.7 1927.1,379.1 1955.7,364.6 1989.8,376.9 2012.9,407 2066.7,434.5 2192,540 2071.1,549.9 2040.3,544.4 2021.6,534.5 2006.3,528.6 1985.4,521.3 1972.2,511.4 1952.4,515.8 1915.1,552.1 1894.2,537.8 1871.1,546.6 1819.5,543.3 1795.7,537.8" fill="#7FF7E6" />
<polygon points="1795.7,496.5 1829.3,474.1 1842.5,466.4 1893.1,438.9 1898.6,436.7 1927.1,379.1 1955.7,364.6 1954.6,405.9 1952.4,515.8 1915.1,552.1 1894.2,537.8 1871.1,546.6 1819.5,543.3 1795.7,537.8" fill="url(#gmount)" />
<polyline points="1927.1,379.1 1954.6,405.9" fill="none" stroke="#1C8FEF" stroke-width="1.1" stroke-linejoin="round"/>
<polyline points="1955.7,364.6 1954.6,405.9" fill="none" stroke="#1C8FEF" stroke-width="1.1" stroke-linejoin="round"/>
<polyline points="1989.8,376.9 1954.6,405.9" fill="none" stroke="#1C8FEF" stroke-width="1.1" stroke-linejoin="round"/>
<polyline points="1954.6,405.9 1952.4,515.8" fill="none" stroke="#1C8FEF" stroke-width="1.1" stroke-linejoin="round"/>
<polyline points="1954.6,405.9 1992,497.1 2006.3,528.6" fill="none" stroke="#1C8FEF" stroke-width="1.1" stroke-linejoin="round"/>
<polyline points="1954.6,405.9 1950.2,427.9 1926,447.7 1898.6,436.7" fill="none" stroke="#1C8FEF" stroke-width="1.1" stroke-linejoin="round"/>
<polyline points="1950.2,427.9 1941.4,459.8 1933.7,485.1" fill="none" stroke="#1C8FEF" stroke-width="1.1" stroke-linejoin="round"/>
<polyline points="1926,447.7 1941.4,459.8" fill="none" stroke="#1C8FEF" stroke-width="1.1" stroke-linejoin="round"/>
<polyline points="1926,447.7 1932.6,476.3" fill="none" stroke="#1C8FEF" stroke-width="1.1" stroke-linejoin="round"/>
<polyline points="2012.9,407 1972.2,442.2 2066.7,436.7" fill="none" stroke="#1C8FEF" stroke-width="1.1" stroke-linejoin="round"/>
<polyline points="2066.7,434.5 2071.1,549.9" fill="none" stroke="#1C8FEF" stroke-width="1.1" stroke-linejoin="round"/>
<polyline points="2066.7,436.7 2027.1,479.6 2021.6,534.5" fill="none" stroke="#1C8FEF" stroke-width="1.1" stroke-linejoin="round"/>
<polyline points="1972.2,442.2 1992,497.1" fill="none" stroke="#1C8FEF" stroke-width="1.1" stroke-linejoin="round"/>
<polyline points="1992,497.1 1972.2,511.4" fill="none" stroke="#1C8FEF" stroke-width="1.1" stroke-linejoin="round"/>
<polyline points="1992,497.1 1985.4,521.3" fill="none" stroke="#1C8FEF" stroke-width="1.1" stroke-linejoin="round"/>
<polyline points="1952.4,515.8 1972.2,511.4 1985.4,521.3 2006.3,528.6 2021.6,534.5 2040.3,544.4 2071.1,549.9 2192,536.7" fill="none" stroke="#1C8FEF" stroke-width="1.1" stroke-linejoin="round"/>
<polyline points="1829.3,474.1 1844.7,490.5 1870,480.7" fill="none" stroke="#1C8FEF" stroke-width="1.1" stroke-linejoin="round"/>
<polyline points="1844.7,490.5 1819.5,522.4" fill="none" stroke="#1C8FEF" stroke-width="1.1" stroke-linejoin="round"/>
<polyline points="1844.7,490.5 1870,546.6" fill="none" stroke="#1C8FEF" stroke-width="1.1" stroke-linejoin="round"/>
<polyline points="1817.3,481.8 1844.7,490.5" fill="none" stroke="#1C8FEF" stroke-width="1.1" stroke-linejoin="round"/>
<polyline points="1870,480.7 1894.2,537.8" fill="none" stroke="#1C8FEF" stroke-width="1.1" stroke-linejoin="round"/>
<polyline points="1819.5,543.3 1871.1,546.6 1894.2,537.8" fill="none" stroke="#1C8FEF" stroke-width="1.1" stroke-linejoin="round"/>
<polyline points="1819.5,522.4 1819.5,543.3" fill="none" stroke="#1C8FEF" stroke-width="1.1" stroke-linejoin="round"/>
<polyline points="1795.7,496.5 1829.3,474.1 1842.5,466.4 1893.1,438.9 1898.6,436.7 1927.1,379.1 1955.7,364.6 1989.8,376.9 2012.9,407 2066.7,434.5 2192,540" fill="none" stroke="#1C8FEF" stroke-width="2.6" stroke-linejoin="round" stroke-linecap="round"/>
<polygon points="1776.5,542.8 1800.2,508 1828.3,533.3 1790.3,555.9" fill="#E5BE98" stroke="#F07432" stroke-width="6.4" stroke-linejoin="round"/>
<polygon points="1721.2,549.6 1757.5,534.4 1786,553.4 1750.1,576.6" fill="#E5BE98" stroke="#F07432" stroke-width="6.4" stroke-linejoin="round"/>
<polygon points="1762.2,567.1 1766.4,566.1 1766.4,573.5 1772.7,574.9 1773.4,587.6 1766.4,591.4 1761.7,587.6" fill="#E5BE98" stroke="#F07432" stroke-width="1.3" stroke-linejoin="round"/>
<polygon points="1776.5,542.8 1800.2,508 1828.3,533.3 1790.3,555.9" fill="#E5BE98" stroke="#E5BE98" stroke-width="4" stroke-linejoin="round"/>
<polygon points="1721.2,549.6 1757.5,534.4 1786,553.4 1750.1,576.6" fill="#E5BE98" stroke="#E5BE98" stroke-width="4" stroke-linejoin="round"/>
<polyline points="1757.9,494.6 1760.9,498.5" fill="none" stroke="#F07432" stroke-width="1.4" />
<polyline points="1776.5,498 1785,500.1" fill="none" stroke="#F07432" stroke-width="1.6" />
<polyline points="1779.7,496.3 1782.5,502.3" fill="none" stroke="#F07432" stroke-width="1.3" />
<polygon points="1915.1,552.1 1945.8,579.6 1959,600 1957.6,593.1 1977.9,661.6 2033.7,712.3 2092,760.5 2163,834 2175,850 2190,860 2212,863 2235,852 2250,838 2257,812 2258.1,794.7 2229,779.5 2178.3,752.9 2138.9,727.5 2127.5,712.3 2081.9,671.7 2037.5,643.8 2014.7,565.2 2014,564.2 1974.4,531.2 1952.4,522.4" fill="#F399F7" stroke="#A068F0" stroke-width="1.8" stroke-linejoin="round"/>
<polygon points="1842.5,467 1893.1,439.3 1921.6,456.5 1932.6,491.6 1951.3,518 1952.4,522.4 1915.1,552.1 1896.4,537.8 1886.5,520.2 1868.9,480.7" fill="#FB85FA" stroke="#A068F0" stroke-width="1.4" stroke-linejoin="round"/>
<polyline points="1868.9,480.7 1921.6,456.5" fill="none" stroke="#F070F5" stroke-width="0.8" />
<polyline points="1842.5,467 1893.1,439.3" fill="none" stroke="#FF45F2" stroke-width="3" filter="url(#glow)" opacity="0.8"/>
<polygon points="1820.8,602.1 1877.9,575.5 1996.6,633.5 1942.7,660.8" fill="none" stroke="#1C8FEF" stroke-width="1.1" stroke-linejoin="round"/>
<polyline points="1820.8,602.1 1820.8,660.8 1942.7,721.4 1996.6,693.3 1996.6,633.5" fill="none" stroke="#1C8FEF" stroke-width="1.1" stroke-linejoin="round"/>
<polyline points="1942.7,660.8 1942.7,721.4" fill="none" stroke="#1C8FEF" stroke-width="1.1" stroke-linejoin="round"/>
<polyline points="1820.8,602.1 1942.7,660.8" fill="none" stroke="#1C8FEF" stroke-width="1.6" stroke-linejoin="round"/>
<polygon points="1872.4,647.6 1898.8,635.1 1946,661.4 1939.9,664.3 1939.9,680.1 1934.4,680.1 1934.4,667.4 1920.8,674.4 1920.8,690 1914.6,690 1914.6,673.5" fill="none" stroke="#FF45F2" stroke-width="3.2" filter="url(#glow)" opacity="0.55"/>
<polygon points="1872.4,647.6 1898.8,635.1 1946,661.4 1939.9,664.3 1939.9,680.1 1934.4,680.1 1934.4,667.4 1920.8,674.4 1920.8,690 1914.6,690 1914.6,673.5" fill="#F78CF6" stroke="#FF45F2" stroke-width="1.3" fill-opacity="0.78" stroke-linejoin="round"/>
<polyline points="1898.8,635.1 1946,661.4" fill="none" stroke="#FF45F2" stroke-width="1.6" />
<polygon points="1729.1,709.1 1755.9,710.4 1854.8,759.7 1854.8,796.6 1828.5,796.2 1729.1,744.9" fill="none" stroke="#FF45F2" stroke-width="3.2" filter="url(#glow)" opacity="0.55"/>
<polygon points="1729.1,709.1 1755.9,710.4 1854.8,759.7 1854.8,796.6 1828.5,796.2 1729.1,744.9" fill="#F78CF6" stroke="#FF45F2" stroke-width="1.3" fill-opacity="0.78" stroke-linejoin="round"/>
<polygon points="1768,788.9 1840.5,753.1 1868,777.9 1868,806.5 1795.9,841.6 1768,826.9" fill="none" stroke="#FF45F2" stroke-width="3.2" filter="url(#glow)" opacity="0.55"/>
<polygon points="1768,788.9 1840.5,753.1 1868,777.9 1868,806.5 1795.9,841.6 1768,826.9" fill="#F78CF6" stroke="#FF45F2" stroke-width="1.3" fill-opacity="0.78" stroke-linejoin="round"/>
<path d="M1971.3 714.2 C1974.2 713.9 1975.6 715.6 1976.8 719.7 C1978.0 723.8 1973.9 725.2 1975.7 729.6 C1977.5 734.0 1980.8 726.5 1983.4 736.2 C1986.0 745.9 1985.6 750.3 1985.6 765.8 C1985.6 781.3 1985.5 783.5 1983.4 794.4 C1981.3 805.3 1982.0 802.5 1977.9 806.5 C1973.8 810.5 1971.5 809.9 1968 809.3 C1964.5 808.7 1963.8 806.5 1964.7 804.3 C1965.6 802.1 1970.7 803.1 1971.3 801 C1971.9 798.9 1969.8 796.3 1966.9 796.6 C1964.0 796.9 1963.5 800.5 1960.3 802.1 C1957.1 803.7 1955.1 804.5 1954.8 802.7 C1954.5 800.9 1957.8 805.3 1959.2 795.5 C1960.6 785.7 1959.3 781.6 1959.9 765.8 C1960.5 750.0 1959.4 745.6 1961.4 736.2 C1963.4 726.8 1966.2 734.8 1967.4 730.7 C1968.6 726.6 1964.8 725.2 1965.8 720.8 C1966.8 716.4 1968.4 714.5 1971.3 714.2Z" fill="none" stroke="#FF45F2" stroke-width="3.2" filter="url(#glow)" opacity="0.55"/>
<path d="M1971.3 714.2 C1974.2 713.9 1975.6 715.6 1976.8 719.7 C1978.0 723.8 1973.9 725.2 1975.7 729.6 C1977.5 734.0 1980.8 726.5 1983.4 736.2 C1986.0 745.9 1985.6 750.3 1985.6 765.8 C1985.6 781.3 1985.5 783.5 1983.4 794.4 C1981.3 805.3 1982.0 802.5 1977.9 806.5 C1973.8 810.5 1971.5 809.9 1968 809.3 C1964.5 808.7 1963.8 806.5 1964.7 804.3 C1965.6 802.1 1970.7 803.1 1971.3 801 C1971.9 798.9 1969.8 796.3 1966.9 796.6 C1964.0 796.9 1963.5 800.5 1960.3 802.1 C1957.1 803.7 1955.1 804.5 1954.8 802.7 C1954.5 800.9 1957.8 805.3 1959.2 795.5 C1960.6 785.7 1959.3 781.6 1959.9 765.8 C1960.5 750.0 1959.4 745.6 1961.4 736.2 C1963.4 726.8 1966.2 734.8 1967.4 730.7 C1968.6 726.6 1964.8 725.2 1965.8 720.8 C1966.8 716.4 1968.4 714.5 1971.3 714.2Z" fill="#F78CF6" stroke="#FF45F2" stroke-width="1.3" fill-opacity="0.7" stroke-linejoin="round"/>
<polygon points="1949.3,744.9 1957,747.1 1958.6,762.5 1950.4,760.3" fill="#F4C79A" stroke="#F07432" stroke-width="1.2" stroke-linejoin="round"/>
<path d="M2069.2 786.4 C2069.2 785.4 2066.5 787.1 2066.2 788.9 C2065.9 790.7 2066.6 791.0 2068.2 793 C2069.8 795.0 2069.4 795.8 2072.2 796.5 C2075.0 797.2 2075.4 797.5 2078.8 795.5 C2082.2 793.5 2083.0 788.2 2084.9 788.9 C2086.8 789.6 2086.4 793.3 2085.9 798 C2085.4 802.7 2085.1 803.2 2082.9 806.7 C2080.7 810.2 2079.0 808.4 2077.8 811.2 C2076.6 814.0 2079.0 815.5 2078.3 817.3 C2077.6 819.1 2076.2 819.2 2075.3 817.8 C2074.4 816.4 2075.8 813.7 2074.8 812.2 C2073.8 810.7 2072.5 810.7 2071.7 812.2 C2070.9 813.7 2072.5 816.4 2071.7 817.8 C2070.9 819.2 2069.4 819.2 2068.7 817.3 C2068.0 815.4 2070.3 814.1 2069.2 810.7 C2068.1 807.3 2066.0 808.0 2064.6 804.6 C2063.2 801.2 2063.7 801.2 2064.1 798 C2064.5 794.8 2064.8 795.6 2066.2 792.5 C2067.6 789.4 2069.2 787.4 2069.2 786.4Z" fill="none" stroke="#FF45F2" stroke-width="3.2" filter="url(#glow)" opacity="0.55"/>
<path d="M2069.2 786.4 C2069.2 785.4 2066.5 787.1 2066.2 788.9 C2065.9 790.7 2066.6 791.0 2068.2 793 C2069.8 795.0 2069.4 795.8 2072.2 796.5 C2075.0 797.2 2075.4 797.5 2078.8 795.5 C2082.2 793.5 2083.0 788.2 2084.9 788.9 C2086.8 789.6 2086.4 793.3 2085.9 798 C2085.4 802.7 2085.1 803.2 2082.9 806.7 C2080.7 810.2 2079.0 808.4 2077.8 811.2 C2076.6 814.0 2079.0 815.5 2078.3 817.3 C2077.6 819.1 2076.2 819.2 2075.3 817.8 C2074.4 816.4 2075.8 813.7 2074.8 812.2 C2073.8 810.7 2072.5 810.7 2071.7 812.2 C2070.9 813.7 2072.5 816.4 2071.7 817.8 C2070.9 819.2 2069.4 819.2 2068.7 817.3 C2068.0 815.4 2070.3 814.1 2069.2 810.7 C2068.1 807.3 2066.0 808.0 2064.6 804.6 C2063.2 801.2 2063.7 801.2 2064.1 798 C2064.5 794.8 2064.8 795.6 2066.2 792.5 C2067.6 789.4 2069.2 787.4 2069.2 786.4Z" fill="#F78CF6" stroke="#FF45F2" stroke-width="1.3" fill-opacity="0.55" stroke-linejoin="round"/>
<path d="M2107.2 799 C2107.2 798.1 2104.5 799.8 2104.2 801.6 C2103.9 803.4 2104.6 803.6 2106.2 805.6 C2107.8 807.6 2107.4 808.5 2110.3 809.2 C2113.2 809.9 2113.5 810.2 2116.9 808.2 C2120.3 806.2 2121.1 800.9 2123 801.6 C2124.9 802.3 2124.6 806.0 2124 810.7 C2123.4 815.4 2123.1 815.8 2120.9 819.3 C2118.7 822.8 2117.1 821.0 2115.9 823.9 C2114.7 826.8 2117.1 828.2 2116.4 830 C2115.7 831.8 2114.3 831.9 2113.3 830.5 C2112.3 829.1 2113.7 826.4 2112.8 824.9 C2111.9 823.4 2110.6 823.4 2109.8 824.9 C2109.0 826.4 2110.6 829.1 2109.8 830.5 C2109.0 831.9 2107.4 831.9 2106.7 830 C2106.0 828.1 2108.3 826.8 2107.2 823.4 C2106.1 820.0 2104.0 820.7 2102.7 817.3 C2101.4 813.9 2101.8 814.0 2102.2 810.7 C2102.6 807.4 2102.9 808.2 2104.2 805.1 C2105.5 802.0 2107.2 799.9 2107.2 799Z" fill="none" stroke="#FF45F2" stroke-width="3.2" filter="url(#glow)" opacity="0.55"/>
<path d="M2107.2 799 C2107.2 798.1 2104.5 799.8 2104.2 801.6 C2103.9 803.4 2104.6 803.6 2106.2 805.6 C2107.8 807.6 2107.4 808.5 2110.3 809.2 C2113.2 809.9 2113.5 810.2 2116.9 808.2 C2120.3 806.2 2121.1 800.9 2123 801.6 C2124.9 802.3 2124.6 806.0 2124 810.7 C2123.4 815.4 2123.1 815.8 2120.9 819.3 C2118.7 822.8 2117.1 821.0 2115.9 823.9 C2114.7 826.8 2117.1 828.2 2116.4 830 C2115.7 831.8 2114.3 831.9 2113.3 830.5 C2112.3 829.1 2113.7 826.4 2112.8 824.9 C2111.9 823.4 2110.6 823.4 2109.8 824.9 C2109.0 826.4 2110.6 829.1 2109.8 830.5 C2109.0 831.9 2107.4 831.9 2106.7 830 C2106.0 828.1 2108.3 826.8 2107.2 823.4 C2106.1 820.0 2104.0 820.7 2102.7 817.3 C2101.4 813.9 2101.8 814.0 2102.2 810.7 C2102.6 807.4 2102.9 808.2 2104.2 805.1 C2105.5 802.0 2107.2 799.9 2107.2 799Z" fill="#F78CF6" stroke="#FF45F2" stroke-width="1.3" fill-opacity="0.55" stroke-linejoin="round"/>
<g filter="url(#glow)" opacity="0.95">
<use href="#cornm" transform="translate(2230.4 576.3) scale(0.664)" stroke-width="5"/>
<use href="#cornm" transform="translate(2246.1 585.2) scale(0.664)" stroke-width="5"/>
<use href="#cornm" transform="translate(2263.4 591.5) scale(0.664)" stroke-width="5"/>
<use href="#cornm" transform="translate(2279.8 602.9) scale(0.664)" stroke-width="5"/>
<use href="#cornm" transform="translate(2298.9 609.3) scale(0.664)" stroke-width="5"/>
<use href="#cornm" transform="translate(2313.8 620.7) scale(0.664)" stroke-width="5"/>
<use href="#cornm" transform="translate(2230.4 610.6) scale(0.664)" stroke-width="5"/>
<use href="#cornm" transform="translate(2246.1 622) scale(0.664)" stroke-width="5"/>
<use href="#cornm" transform="translate(2263.4 629.6) scale(0.664)" stroke-width="5"/>
<use href="#cornm" transform="translate(2279.8 641) scale(0.664)" stroke-width="5"/>
</g>
<use href="#cornm" transform="translate(2230.4 576.3) scale(0.664)"/>
<use href="#cornm" transform="translate(2246.1 585.2) scale(0.664)"/>
<use href="#cornm" transform="translate(2263.4 591.5) scale(0.664)"/>
<use href="#cornm" transform="translate(2279.8 602.9) scale(0.664)"/>
<use href="#cornm" transform="translate(2298.9 609.3) scale(0.664)"/>
<use href="#cornm" transform="translate(2313.8 620.7) scale(0.664)"/>
<use href="#cornm" transform="translate(2195.9 592.8) scale(0.664)"/>
<use href="#cornm" transform="translate(2211.9 602.9) scale(0.664)"/>
<use href="#cornm" transform="translate(2230.4 610.6) scale(0.664)"/>
<use href="#cornm" transform="translate(2246.1 622) scale(0.664)"/>
<use href="#cornm" transform="translate(2263.4 629.6) scale(0.664)"/>
<use href="#cornm" transform="translate(2279.8 641) scale(0.664)"/>
<use href="#cornm" transform="translate(2099 601.9) scale(0.654)"/>
<use href="#cornm" transform="translate(2114.2 614.6) scale(0.654)"/>
<use href="#cornm" transform="translate(2132.7 621) scale(0.654)"/>
<use href="#cornm" transform="translate(2148.5 632.4) scale(0.654)"/>
<use href="#cornm" transform="translate(2168.3 638.7) scale(0.654)"/>
<use href="#cornm" transform="translate(2184 650.1) scale(0.654)"/>
<use href="#cornm" transform="translate(2203 657.7) scale(0.654)"/>
<use href="#cornm" transform="translate(2218.7 666.6) scale(0.654)"/>
<use href="#cornm" transform="translate(2064.8 622.2) scale(0.654)"/>
<use href="#cornm" transform="translate(2080.8 633.6) scale(0.654)"/>
<use href="#cornm" transform="translate(2099 640) scale(0.654)"/>
<use href="#cornm" transform="translate(2114.2 651.4) scale(0.654)"/>
<use href="#cornm" transform="translate(2132.7 657.7) scale(0.654)"/>
<use href="#cornm" transform="translate(2148.5 669.1) scale(0.654)"/>
<use href="#cornm" transform="translate(2168.3 675.5) scale(0.654)"/>
<use href="#cornm" transform="translate(2184 686.9) scale(0.654)"/>
<polygon points="2259.2,600.3 2264.8,599.1 2263.3,612.1 2257.9,612.5" fill="#F4C79A" stroke="#F07432" stroke-width="1" />
<polygon points="2376.7,649.4 2386.9,643.8 2407.2,653.9 2407.2,661.5 2397,667.1 2376.7,657" fill="none" stroke="#FF45F2" stroke-width="3.2" filter="url(#glow)" opacity="0.55"/>
<polygon points="2376.7,649.4 2386.9,643.8 2407.2,653.9 2407.2,661.5 2397,667.1 2376.7,657" fill="#E0A6F2" stroke="#FF45F2" stroke-width="1.2" fill-opacity="0.82" stroke-linejoin="round"/>
<polygon points="2405.9,662.5 2416,657 2436.3,667.1 2436.3,674.7 2426.2,680.3 2405.9,670.2" fill="none" stroke="#FF45F2" stroke-width="3.2" filter="url(#glow)" opacity="0.55"/>
<polygon points="2405.9,662.5 2416,657 2436.3,667.1 2436.3,674.7 2426.2,680.3 2405.9,670.2" fill="#E0A6F2" stroke="#FF45F2" stroke-width="1.2" fill-opacity="0.82" stroke-linejoin="round"/>
<polygon points="2353.9,660.8 2364,655.2 2384.3,665.3 2384.3,672.9 2374.2,678.5 2353.9,668.4" fill="none" stroke="#FF45F2" stroke-width="3.2" filter="url(#glow)" opacity="0.55"/>
<polygon points="2353.9,660.8 2364,655.2 2384.3,665.3 2384.3,672.9 2374.2,678.5 2353.9,668.4" fill="#E0A6F2" stroke="#FF45F2" stroke-width="1.2" fill-opacity="0.82" stroke-linejoin="round"/>
<polygon points="2383.1,674 2393.2,668.4 2413.5,678.5 2413.5,686.1 2403.4,691.7 2383.1,681.6" fill="none" stroke="#FF45F2" stroke-width="3.2" filter="url(#glow)" opacity="0.55"/>
<polygon points="2383.1,674 2393.2,668.4 2413.5,678.5 2413.5,686.1 2403.4,691.7 2383.1,681.6" fill="#E0A6F2" stroke="#FF45F2" stroke-width="1.2" fill-opacity="0.82" stroke-linejoin="round"/>
<polygon points="2333.6,672.2 2343.8,666.6 2364,676.7 2364,684.4 2353.9,689.9 2333.6,679.8" fill="none" stroke="#FF45F2" stroke-width="3.2" filter="url(#glow)" opacity="0.55"/>
<polygon points="2333.6,672.2 2343.8,666.6 2364,676.7 2364,684.4 2353.9,689.9 2333.6,679.8" fill="#E0A6F2" stroke="#FF45F2" stroke-width="1.2" fill-opacity="0.82" stroke-linejoin="round"/>
<polygon points="2362.8,685.4 2372.9,679.8 2393.2,689.9 2393.2,697.5 2383.1,703.1 2362.8,693" fill="none" stroke="#FF45F2" stroke-width="3.2" filter="url(#glow)" opacity="0.55"/>
<polygon points="2362.8,685.4 2372.9,679.8 2393.2,689.9 2393.2,697.5 2383.1,703.1 2362.8,693" fill="#E0A6F2" stroke="#FF45F2" stroke-width="1.2" fill-opacity="0.82" stroke-linejoin="round"/>
<polygon points="2289.2,691.2 2299.4,685.6 2319.7,695.8 2319.7,703.4 2309.5,709 2289.2,698.8" fill="none" stroke="#FF45F2" stroke-width="3.2" filter="url(#glow)" opacity="0.55"/>
<polygon points="2289.2,691.2 2299.4,685.6 2319.7,695.8 2319.7,703.4 2309.5,709 2289.2,698.8" fill="#E0A6F2" stroke="#FF45F2" stroke-width="1.2" fill-opacity="0.82" stroke-linejoin="round"/>
<polygon points="2318.4,705.2 2328.5,699.6 2348.8,709.7 2348.8,717.3 2338.7,722.9 2318.4,712.8" fill="none" stroke="#FF45F2" stroke-width="3.2" filter="url(#glow)" opacity="0.55"/>
<polygon points="2318.4,705.2 2328.5,699.6 2348.8,709.7 2348.8,717.3 2338.7,722.9 2318.4,712.8" fill="#E0A6F2" stroke="#FF45F2" stroke-width="1.2" fill-opacity="0.82" stroke-linejoin="round"/>
<polygon points="2265.1,702.6 2275.3,697 2295.6,707.2 2295.6,714.8 2285.4,720.4 2265.1,710.2" fill="none" stroke="#FF45F2" stroke-width="3.2" filter="url(#glow)" opacity="0.55"/>
<polygon points="2265.1,702.6 2275.3,697 2295.6,707.2 2295.6,714.8 2285.4,720.4 2265.1,710.2" fill="#E0A6F2" stroke="#FF45F2" stroke-width="1.2" fill-opacity="0.82" stroke-linejoin="round"/>
<polygon points="2294.3,716.6 2304.4,711 2324.7,721.1 2324.7,728.7 2314.6,734.3 2294.3,724.2" fill="none" stroke="#FF45F2" stroke-width="3.2" filter="url(#glow)" opacity="0.55"/>
<polygon points="2294.3,716.6 2304.4,711 2324.7,721.1 2324.7,728.7 2314.6,734.3 2294.3,724.2" fill="#E0A6F2" stroke="#FF45F2" stroke-width="1.2" fill-opacity="0.82" stroke-linejoin="round"/>
<polygon points="2242.3,714 2252.5,708.4 2272.7,718.6 2272.7,726.2 2262.6,731.8 2242.3,721.6" fill="none" stroke="#FF45F2" stroke-width="3.2" filter="url(#glow)" opacity="0.55"/>
<polygon points="2242.3,714 2252.5,708.4 2272.7,718.6 2272.7,726.2 2262.6,731.8 2242.3,721.6" fill="#E0A6F2" stroke="#FF45F2" stroke-width="1.2" fill-opacity="0.82" stroke-linejoin="round"/>
<polygon points="2271.5,728 2281.6,722.4 2301.9,732.5 2301.9,740.1 2291.8,745.7 2271.5,735.6" fill="none" stroke="#FF45F2" stroke-width="3.2" filter="url(#glow)" opacity="0.55"/>
<polygon points="2271.5,728 2281.6,722.4 2301.9,732.5 2301.9,740.1 2291.8,745.7 2271.5,735.6" fill="#E0A6F2" stroke="#FF45F2" stroke-width="1.2" fill-opacity="0.82" stroke-linejoin="round"/>
<polygon points="2220.7,725.4 2230.9,719.9 2251.2,730 2251.2,737.6 2241,743.2 2220.7,733" fill="none" stroke="#FF45F2" stroke-width="3.2" filter="url(#glow)" opacity="0.55"/>
<polygon points="2220.7,725.4 2230.9,719.9 2251.2,730 2251.2,737.6 2241,743.2 2220.7,733" fill="#E0A6F2" stroke="#FF45F2" stroke-width="1.2" fill-opacity="0.82" stroke-linejoin="round"/>
<polygon points="2248.6,739.4 2258.8,733.8 2279.1,744 2279.1,751.6 2268.9,757.1 2248.6,747" fill="none" stroke="#FF45F2" stroke-width="3.2" filter="url(#glow)" opacity="0.55"/>
<polygon points="2248.6,739.4 2258.8,733.8 2279.1,744 2279.1,751.6 2268.9,757.1 2248.6,747" fill="#E0A6F2" stroke="#FF45F2" stroke-width="1.2" fill-opacity="0.82" stroke-linejoin="round"/>
<polyline points="2471,679.5 2266,782.5 2258,795" fill="none" stroke="#1C8FEF" stroke-width="2.6" stroke-linejoin="round" stroke-linecap="round"/>
<polyline points="2163.5,834.5 1956,938" fill="none" stroke="#1C8FEF" stroke-width="2.6" stroke-linejoin="round" stroke-linecap="round"/>
<polyline points="1440,681 1956,938" fill="none" stroke="#1C8FEF" stroke-width="2.8" stroke-linejoin="round" stroke-linecap="round"/>
<polyline points="1440,681 1440,797 1956,1054 2471,795.5 2471,679.5" fill="none" stroke="#1C8FEF" stroke-width="2.2" stroke-linejoin="round" stroke-linecap="round"/>
<polyline points="1956,938 1956,1054" fill="none" stroke="#1C8FEF" stroke-width="1.8" stroke-linejoin="round" stroke-linecap="round"/>
<polyline points="2375.6,731.4 2375.6,741.2" fill="none" stroke="#F07432" stroke-width="1.6" />
<polyline points="2380.5,730.2 2380.5,738.8" fill="none" stroke="#F07432" stroke-width="1.6" />
<polyline points="2384.7,728.2 2384.7,736.3" fill="none" stroke="#F07432" stroke-width="1.6" />
<polygon points="2368.2,713 2381,706.9 2391.5,711.8 2391.5,724.1 2379.3,731.4 2368.2,726.5" fill="#E5BE98" stroke="#F07432" stroke-width="1.3" stroke-linejoin="round"/>
<rect x="2039.5" y="691" width="33" height="13" rx="4" fill="#E5BE98" stroke="#F07432" stroke-width="1.3" transform="rotate(27 2056 697.5)"/>
<rect x="2194.5" y="830.5" width="33" height="13" rx="4" fill="#E5BE98" stroke="#F07432" stroke-width="1.3" transform="rotate(27 2211 837)"/>
<polygon points="1584.2,405.1 1616.2,389.3 1647.7,406.3 1618.5,421.5" fill="#FCCDB8" stroke="#F07432" stroke-width="9.4" stroke-linejoin="round"/>
<polygon points="1658.5,372.3 1686.1,358.5 1718.9,374.7 1687.7,390.7" fill="#FCCDB8" stroke="#F07432" stroke-width="9.4" stroke-linejoin="round"/>
<polyline points="1641.2,395.3 1648.1,392.7" fill="none" stroke="#F07432" stroke-width="5.6" stroke-linecap="round"/>
<polyline points="1639.8,371.5 1664.9,402.2" fill="none" stroke="#F07432" stroke-width="23.4" stroke-linecap="round"/>
<polyline points="1666.3,405.5 1670,410.6" fill="none" stroke="#F07432" stroke-width="7.4" />
<ellipse cx="1677" cy="418.5" rx="15.34" ry="10.41" fill="#FCCDB8" stroke="#F07432" stroke-width="2.4" transform="rotate(-18 1677 418.5)" />
<polygon points="1584.2,405.1 1616.2,389.3 1647.7,406.3 1618.5,421.5" fill="#FCCDB8" stroke="#FCCDB8" stroke-width="7" stroke-linejoin="round"/>
<polygon points="1658.5,372.3 1686.1,358.5 1718.9,374.7 1687.7,390.7" fill="#FCCDB8" stroke="#FCCDB8" stroke-width="7" stroke-linejoin="round"/>
<polyline points="1641.2,395.3 1648.1,392.7" fill="none" stroke="#FCCDB8" stroke-width="3.2" stroke-linecap="round"/>
<polyline points="1639.8,371.5 1664.9,402.2" fill="none" stroke="#FCCDB8" stroke-width="21" stroke-linecap="round"/>
<polyline points="1666.3,405.5 1670,410.6" fill="none" stroke="#FCCDB8" stroke-width="5" />
<ellipse cx="1677" cy="418.5" rx="15.34" ry="10.41" fill="#FCCDB8" stroke="#FCCDB8" stroke-width="0.01" transform="rotate(-18 1677 418.5)" />
<polyline points="2144.4,362.3 2114.2,348.3" fill="none" stroke="#F07432" stroke-width="1.9" stroke-linecap="round"/>
<polyline points="2144.4,362.3 2144.4,341" fill="none" stroke="#F07432" stroke-width="1.9" stroke-linecap="round"/>
<polyline points="2134.3,337.7 2153.4,342.9" fill="none" stroke="#F07432" stroke-width="2.1" stroke-linecap="round"/>
<polyline points="2144.4,362.3 2167.7,351.1" fill="none" stroke="#F07432" stroke-width="1.9" stroke-linecap="round"/>
<polyline points="2165.4,344.7 2170.1,345.6" fill="none" stroke="#F07432" stroke-width="2.1" stroke-linecap="round"/>
<polyline points="2144.4,362.3 2105.6,362.3" fill="none" stroke="#F07432" stroke-width="1.9" stroke-linecap="round"/>
<polyline points="2092.8,367 2106,358.4" fill="none" stroke="#F07432" stroke-width="2.1" stroke-linecap="round"/>
<polyline points="2144.4,362.3 2116.5,377.8" fill="none" stroke="#F07432" stroke-width="1.9" stroke-linecap="round"/>
<polyline points="2102.1,378.1 2123.5,377.8" fill="none" stroke="#F07432" stroke-width="2.1" stroke-linecap="round"/>
<polyline points="2144.4,362.3 2144.4,384.4" fill="none" stroke="#F07432" stroke-width="1.9" stroke-linecap="round"/>
<polyline points="2136.3,380.9 2152.2,388.3" fill="none" stroke="#F07432" stroke-width="2.1" stroke-linecap="round"/>
<polyline points="2144.4,362.3 2173.2,379.8" fill="none" stroke="#F07432" stroke-width="1.9" stroke-linecap="round"/>
<polyline points="2170.8,383.3 2174.3,379.4" fill="none" stroke="#F07432" stroke-width="2.1" stroke-linecap="round"/>
<polyline points="2144.4,362.3 2165.4,362.3" fill="none" stroke="#F07432" stroke-width="1.9" stroke-linecap="round"/>
<ellipse cx="2112.6" cy="346.8" rx="1.4" ry="5.59" fill="#FCCDB8" stroke="#F07432" stroke-width="1.6" />
<ellipse cx="2144.4" cy="362.3" rx="15.92" ry="9.7" fill="#FCCDB8" stroke="#F07432" stroke-width="1.7" />
<polygon points="1742.4,356.6 1771.2,356.6 1771.2,361.4 1744.8,361.4" fill="#3F51B5"/>
<polygon points="1746.1,365.7 1763.6,365.7 1763.6,370.5 1746.7,370.5" fill="#3F51B5"/>
<polygon points="1746.5,375.0 1757.6,375.0 1757.6,379.8 1745.4,379.8" fill="#3F51B5"/>
<polygon points="1743.7,384.0 1760.8,384.0 1760.8,389.0 1740.5,389.0" fill="#3F51B5"/>
<circle cx="1719" cy="371.5" r="22.4" fill="#ABB4EE" stroke="#3F51B5" stroke-width="2.7"/>
<circle cx="1719" cy="371.5" r="12.5" fill="#3F51B5"/>
<path d="M1711.5 363 c3 -2.500 7 -3.500 10.500 -2.500 l-1.500 3 l3 1 l-1 3 l2.500 2 c-2 0 -3 1 -3 3 l2 3 l-2 2.500 c-2 -1 -2.500 -3 -2.500 -5 c-3 -1 -5 -3 -6 -6 c-1 -1.500 -1.500 -3 -2 -4z" fill="#ABB4EE"/>
<path d="M1721 380 l5 -3 l1 4 c-2 1.500 -4 1.500 -6 -1z" fill="#ABB4EE"/>
<circle cx="1763" cy="521.5" r="22.4" fill="#ABB4EE" stroke="#3F51B5" stroke-width="2.7"/>
<path d="M1753 522 a5.5 5.5 0 0 1 3 -10 a7.5 7.5 0 0 1 14 -1 a5.5 5.5 0 0 1 3 11z" fill="#3F51B5"/>
<ellipse cx="1757" cy="527.5" rx="1.5" ry="2.4" fill="#3F51B5"/>
<ellipse cx="1763" cy="531.5" rx="1.5" ry="2.4" fill="#3F51B5"/>
<ellipse cx="1769" cy="527.5" rx="1.5" ry="2.4" fill="#3F51B5"/>
<circle cx="1646.5" cy="579.5" r="22.4" fill="#ABB4EE" stroke="#3F51B5" stroke-width="2.7"/>
<path d="M1633.5 587.5 l8 -8 l5 4 l9 -9" fill="none" stroke="#3F51B5" stroke-width="2.6"/>
<path d="M1651.5 573.5 l9 -4 l-3 9z" fill="#3F51B5"/>
<circle cx="1535" cy="635.5" r="22.4" fill="#ABB4EE" stroke="#3F51B5" stroke-width="2.7"/>
<ellipse cx="1535" cy="627.5" rx="11.5" ry="4.2" fill="#3F51B5"/>
<ellipse cx="1535" cy="634" rx="11.5" ry="4.2" fill="#3F51B5"/>
<ellipse cx="1535" cy="640.5" rx="11.5" ry="4.2" fill="#3F51B5"/>
<ellipse cx="1535" cy="647" rx="11.5" ry="4.2" fill="#3F51B5"/>
<path d="M1523.5 629.5 q11.5 6 23 0" fill="none" stroke="#ABB4EE" stroke-width="1.3"/>
<path d="M1523.5 636 q11.5 6 23 0" fill="none" stroke="#ABB4EE" stroke-width="1.3"/>
<path d="M1523.5 642.5 q11.5 6 23 0" fill="none" stroke="#ABB4EE" stroke-width="1.3"/>
<polygon points="1879.9,653.8 1908.7,653.8 1908.7,658.6 1882.3,658.6" fill="#3F51B5"/>
<polygon points="1883.6,662.9 1901.1,662.9 1901.1,667.7 1884.2,667.7" fill="#3F51B5"/>
<polygon points="1884.0,672.2 1895.1,672.2 1895.1,677.0 1882.9,677.0" fill="#3F51B5"/>
<polygon points="1881.2,681.2 1898.3,681.2 1898.3,686.2 1878.0,686.2" fill="#3F51B5"/>
<circle cx="1856.5" cy="668.7" r="22.4" fill="#ABB4EE" stroke="#3F51B5" stroke-width="2.7"/>
<path d="M1844.5 665.7 l12 -10 l12 10z" fill="#3F51B5"/>
<path d="M1847 667.7 h19 v13 h-6 v-8 h-7 v8 h-6z" fill="#3F51B5"/>
<polygon points="1751.4,730.6 1780.2,730.6 1780.2,735.4 1753.8,735.4" fill="#3F51B5"/>
<polygon points="1755.1,739.7 1772.6,739.7 1772.6,744.5 1755.7,744.5" fill="#3F51B5"/>
<polygon points="1755.5,749.0 1766.6,749.0 1766.6,753.8 1754.4,753.8" fill="#3F51B5"/>
<polygon points="1752.7,758.0 1769.8,758.0 1769.8,763.0 1749.5,763.0" fill="#3F51B5"/>
<circle cx="1728" cy="745.5" r="22.4" fill="#ABB4EE" stroke="#3F51B5" stroke-width="2.7"/>
<path d="M1715 737.7 h20 v-2.2 l6 4 l-6 4 v-2.2 h-20z" fill="#3F51B5"/>
<path d="M1741 749.7 h-20 v-2.2 l-6 4 l6 4 v-2.2 h20z" fill="#3F51B5"/>
<polygon points="2020.4,742.3 2049.2,742.3 2049.2,747.1 2022.8,747.1" fill="#3F51B5"/>
<polygon points="2024.1,751.4 2041.6,751.4 2041.6,756.2 2024.7,756.2" fill="#3F51B5"/>
<polygon points="2024.5,760.7 2035.6,760.7 2035.6,765.5 2023.4,765.5" fill="#3F51B5"/>
<polygon points="2021.7,769.7 2038.8,769.7 2038.8,774.7 2018.5,774.7" fill="#3F51B5"/>
<circle cx="1997" cy="757.2" r="22.4" fill="#ABB4EE" stroke="#3F51B5" stroke-width="2.7"/>
<clipPath id="pc"><circle cx="1997" cy="757.2" r="19"/></clipPath>
<g clip-path="url(#pc)"><circle cx="1997" cy="751.2" r="8.5" fill="#3F51B5"/><path d="M1981 779.2 c0 -12 8 -15 16 -15 c8 0 16 3 16 15z" fill="#3F51B5"/></g>
<path d="M1976.5 767.7 h11 v7 c0 4 -3 7 -5.5 8 c-2.500 -1 -5.500 -4 -5.500 -8z" fill="#3F51B5" stroke="#ABB4EE" stroke-width="0.8"/>
<polygon points="2126.8,679.7 2155.6,679.7 2155.6,684.5 2129.2,684.5" fill="#3F51B5"/>
<polygon points="2130.5,688.8 2148.0,688.8 2148.0,693.6 2131.1,693.6" fill="#3F51B5"/>
<polygon points="2130.9,698.1 2142.0,698.1 2142.0,702.9 2129.8,702.9" fill="#3F51B5"/>
<polygon points="2128.1,707.1 2145.2,707.1 2145.2,712.1 2124.9,712.1" fill="#3F51B5"/>
<circle cx="2103.4" cy="694.6" r="22.4" fill="#ABB4EE" stroke="#3F51B5" stroke-width="2.7"/>
<g transform="translate(2106.4 685.1) scale(1 1)"><ellipse cx="0" cy="0" rx="6.5" ry="2.6" fill="#3F51B5"/><path d="M-5 0 l-5 -3 v6z" fill="#3F51B5"/><path d="M-1 -2 l2 -2.500 l2 2.500z" fill="#3F51B5"/></g>
<g transform="translate(2098.4 695.1) scale(-1 1)"><ellipse cx="0" cy="0" rx="6.5" ry="2.6" fill="#3F51B5"/><path d="M-5 0 l-5 -3 v6z" fill="#3F51B5"/><path d="M-1 -2 l2 -2.500 l2 2.500z" fill="#3F51B5"/></g>
<g transform="translate(2106.4 705.1) scale(1 1)"><ellipse cx="0" cy="0" rx="6.5" ry="2.6" fill="#3F51B5"/><path d="M-5 0 l-5 -3 v6z" fill="#3F51B5"/><path d="M-1 -2 l2 -2.500 l2 2.500z" fill="#3F51B5"/></g>
<polygon points="2251.1,617.5 2279.9,617.5 2279.9,622.3 2253.5,622.3" fill="#3F51B5"/>
<polygon points="2254.8,626.6 2272.3,626.6 2272.3,631.4 2255.4,631.4" fill="#3F51B5"/>
<polygon points="2255.2,635.9 2266.3,635.9 2266.3,640.7 2254.1,640.7" fill="#3F51B5"/>
<polygon points="2252.4,644.9 2269.5,644.9 2269.5,649.9 2249.2,649.9" fill="#3F51B5"/>
<circle cx="2227.7" cy="632.4" r="22.4" fill="#ABB4EE" stroke="#3F51B5" stroke-width="2.7"/>
<path d="M2221.7 631.4 h8 v-8 h9 v9 h2 v8 h-19 v2 h-8 v-6 q0 -4 8 -5z" fill="#3F51B5"/>
<circle cx="2235.2" cy="638.4" r="6.2" fill="#3F51B5"/><circle cx="2217.7" cy="640.9" r="3.6" fill="#3F51B5"/>
<rect x="2224.7" y="626.4" width="1.6" height="5" fill="#3F51B5"/>
<polygon points="2213.3,344.7 2242.1,344.7 2242.1,349.5 2215.7,349.5" fill="#3F51B5"/>
<polygon points="2217.0,353.8 2234.5,353.8 2234.5,358.6 2217.6,358.6" fill="#3F51B5"/>
<polygon points="2217.4,363.1 2228.5,363.1 2228.5,367.9 2216.3,367.9" fill="#3F51B5"/>
<polygon points="2214.6,372.1 2231.7,372.1 2231.7,377.1 2211.4,377.1" fill="#3F51B5"/>
<circle cx="2189.9" cy="359.6" r="22.4" fill="#ABB4EE" stroke="#3F51B5" stroke-width="2.7"/>
<path d="M2189.1 365.8 c-9 -1 -13 -8 -13.500 -16.500 c9 0 14.500 6 13.500 16.500z M2190.7 365.8 c9 -1 13 -8 13.500 -16.500 c-9 0 -14.500 6 -13.500 16.500z" fill="#3F51B5"/>
<path d="M2186.5 359.1 l3.400 7 l3.400 -7 l-2.200 9 v6 h-2.400 v-6z" fill="#3F51B5"/>
<ellipse cx="238.5" cy="-2.5" rx="15" ry="5" fill="#333"/>
<path d="M1170.4 229.6 C1142 241 1121.7 259.9 1105.5 284.3" fill="none" stroke="#5C80E2" stroke-width="17.5" />
<polygon points="1090,263.2 1127.9,295.6 1076.2,318.3" fill="#5C80E2" />
<path d="M1431.4 229.6 C1459.8 241 1480.1 259.9 1495.8 284.3" fill="none" stroke="#5C80E2" stroke-width="17.5" />
<polygon points="1510.6,263.2 1472.8,295.6 1523.9,317.8" fill="#5C80E2" />
<circle cx="1300.9" cy="194.5" r="139.5" fill="#FCCBB7"/>
<polygon points="1198.8,134.3 1221.4,123.1 1243.7,135.1 1223.1,145.8" fill="#93A2A4" stroke="#93A2A4" stroke-width="1.3354" stroke-linejoin="round"/>
<polygon points="1202.5,134.1 1210.6,130.1 1216,132.8 1208.1,136.7" fill="#45575B" stroke="#45575B" stroke-width="0.7284" stroke-linejoin="round"/>
<polygon points="1210,137.7 1217.9,133.7 1223.3,136.4 1215.6,140.3" fill="#45575B" stroke="#45575B" stroke-width="0.7284" stroke-linejoin="round"/>
<polygon points="1217.5,141.3 1225.1,137.4 1230.5,140.1 1223,143.9" fill="#45575B" stroke="#45575B" stroke-width="0.7284" stroke-linejoin="round"/>
<polygon points="1212.9,129 1220.9,124.9 1226.1,127.7 1218.2,131.7" fill="#45575B" stroke="#45575B" stroke-width="0.7284" stroke-linejoin="round"/>
<polygon points="1220.1,132.6 1227.9,128.7 1233.1,131.4 1225.4,135.3" fill="#45575B" stroke="#45575B" stroke-width="0.7284" stroke-linejoin="round"/>
<polygon points="1227.2,136.3 1234.9,132.4 1240,135.1 1232.6,139" fill="#45575B" stroke="#45575B" stroke-width="0.7284" stroke-linejoin="round"/>
<polygon points="1244.3,114.2 1263.7,104.5 1286.9,115.9 1264.9,127.2" fill="#93A2A4" stroke="#93A2A4" stroke-width="1.3354" stroke-linejoin="round"/>
<polygon points="1247.5,114.3 1254.5,110.7 1259.5,113.5 1252.3,117.2" fill="#45575B" stroke="#45575B" stroke-width="0.7284" stroke-linejoin="round"/>
<polygon points="1253.9,118.2 1261.3,114.5 1266.3,117.3 1258.7,121.2" fill="#45575B" stroke="#45575B" stroke-width="0.7284" stroke-linejoin="round"/>
<polygon points="1260.4,122.2 1268,118.3 1273,121.2 1265.2,125.2" fill="#45575B" stroke="#45575B" stroke-width="0.7284" stroke-linejoin="round"/>
<polygon points="1256.5,109.7 1263.6,106.2 1268.9,108.8 1261.6,112.5" fill="#45575B" stroke="#45575B" stroke-width="0.7284" stroke-linejoin="round"/>
<polygon points="1263.3,113.5 1270.7,109.8 1276,112.4 1268.4,116.3" fill="#45575B" stroke="#45575B" stroke-width="0.7284" stroke-linejoin="round"/>
<polygon points="1270.2,117.2 1277.8,113.4 1283.1,116 1275.2,120" fill="#45575B" stroke="#45575B" stroke-width="0.7284" stroke-linejoin="round"/>
<polyline points="1236.6,128.3 1240.9,126.8" fill="none" stroke="#1C6E80" stroke-width="1.9424" stroke-linecap="round"/>
<polyline points="1250.8,121.9 1252.4,122.7" fill="none" stroke="#1C6E80" stroke-width="1.5175" stroke-linecap="round"/>
<polyline points="1235.8,114 1251,132.6" fill="none" stroke="#A9D0DA" stroke-width="12.747" stroke-linecap="round"/>
<ellipse cx="1251.6" cy="134.6" rx="5.93" ry="3.73" fill="#C5E3EA" transform="rotate(-25 1251.6 134.6)" />
<polyline points="1251.9,134.6 1254.1,137.7" fill="none" stroke="#8FB9C6" stroke-width="2.1245" />
<ellipse cx="1258.4" cy="142.5" rx="9.31" ry="6.32" fill="#DDE4E9" transform="rotate(-18 1258.4 142.5)" />
<ellipse cx="1258.9" cy="141.9" rx="8.47" ry="5.53" fill="#E9EEF1" transform="rotate(-18 1258.9 141.9)" />
<polyline points="1254.7,143.3 1257.5,141 1258.4,145 1260.1,140.2" fill="none" stroke="#B5C0C6" stroke-width="0.4856" />
<polyline points="1354.3,124.7 1329.3,113.7" fill="none" stroke="#4B4F52" stroke-width="0.925" />
<polyline points="1354.3,124.7 1353.3,108.3" fill="none" stroke="#4B4F52" stroke-width="0.925" />
<polyline points="1354.3,124.7 1378.3,113.7" fill="none" stroke="#4B4F52" stroke-width="0.925" />
<polyline points="1354.3,124.7 1390.3,125.7" fill="none" stroke="#4B4F52" stroke-width="0.925" />
<polyline points="1354.3,124.7 1378.3,138.7" fill="none" stroke="#4B4F52" stroke-width="0.925" />
<polyline points="1354.3,124.7 1353.3,143.7" fill="none" stroke="#4B4F52" stroke-width="0.925" />
<polyline points="1354.3,124.7 1330.3,138.3" fill="none" stroke="#4B4F52" stroke-width="0.925" />
<polyline points="1354.3,124.7 1318.3,126.7" fill="none" stroke="#4B4F52" stroke-width="0.925" />
<polyline points="1329.3,109.3 1329.3,118.1" fill="none" stroke="#3A3D40" stroke-width="1.258" />
<polyline points="1345.3,106.7 1361.3,109.9" fill="none" stroke="#3A3D40" stroke-width="1.258" />
<polyline points="1370.3,112.1 1386.3,115.3" fill="none" stroke="#3A3D40" stroke-width="1.258" />
<polyline points="1384.7,127.3 1395.9,124.1" fill="none" stroke="#3A3D40" stroke-width="1.258" />
<polyline points="1375.9,135.1 1380.7,142.3" fill="none" stroke="#3A3D40" stroke-width="1.258" />
<polyline points="1347.3,141.7 1359.3,145.7" fill="none" stroke="#3A3D40" stroke-width="1.258" />
<polyline points="1322.3,137.5 1338.3,139.1" fill="none" stroke="#3A3D40" stroke-width="1.258" />
<polyline points="1313.9,128.7 1322.7,124.7" fill="none" stroke="#3A3D40" stroke-width="1.258" />
<ellipse cx="1354.3" cy="126.3" rx="12.41" ry="6.61" fill="#3F4346" />
<ellipse cx="1354.3" cy="124.7" rx="12.41" ry="6.61" fill="#D5D9DC" />
<polygon points="1290.2,157.1 1326.4,179.3 1318.3,246.4 1282.1,222.6" fill="#55585C" stroke="#55585C" stroke-width="3" stroke-linejoin="round"/>
<polygon points="1286.7,155.5 1323.2,177.7 1315.1,244.2 1278.6,220.4" fill="#F4F4F4" stroke="#F4F4F4" stroke-width="3" stroke-linejoin="round"/>
<polygon points="1290.7,164.4 1320.5,182 1313.5,236.1 1282.6,217.2" fill="#45ECEA" />
<polyline points="1199.3,224.2 1222.6,237.7" fill="none" stroke="#D7BFAF" stroke-width="19" stroke-linecap="butt"/>
<ellipse cx="1199.3" cy="224.2" rx="5.95" ry="9.74" fill="#D7BFAF" transform="rotate(28 1199.3 224.2)" />
<polyline points="1201.5,216.6 1224.5,229.6" fill="none" stroke="#C4AA9A" stroke-width="1" />
<ellipse cx="1222.6" cy="237.7" rx="5.95" ry="9.74" fill="#F6E8E0" transform="rotate(28 1222.6 237.7)" />
<polyline points="1383.5,236.2 1383.5,253.2" fill="none" stroke="#C9CDD0" stroke-width="1.68" />
<polyline points="1389.9,236.2 1389.9,250.7" fill="none" stroke="#C9CDD0" stroke-width="1.68" />
<polyline points="1396.3,236.2 1396.3,248.1" fill="none" stroke="#C9CDD0" stroke-width="1.68" />
<polygon points="1374.6,216.7 1388.8,208.5 1404.8,214.9 1390.6,223.1" fill="#5A5A5E" />
<polygon points="1374.6,216.7 1390.6,223.1 1390.6,240.5 1374.6,233.4" fill="#2E2E31" />
<polygon points="1390.6,223.1 1404.8,214.9 1404.8,232.6 1390.6,240.5" fill="#3E3E42" />
<ellipse cx="1389.5" cy="215.6" rx="2.13" ry="1.42" fill="#F0F0F0" />
<polygon points="1297.5,280.6 1315,270.6 1329.9,285 1312.4,294.9" fill="#FFFFFF" stroke="#FFFFFF" stroke-width="1.35" stroke-linejoin="round"/>
<polygon points="1300.2,280.9 1306.7,277.2 1309.8,280.2 1303.3,283.9" fill="#0F5A73" stroke="#0F5A73" stroke-width="0.54" stroke-linejoin="round"/>
<polygon points="1304.7,285.2 1311.2,281.6 1314.2,284.5 1307.8,288.2" fill="#0F5A73" stroke="#0F5A73" stroke-width="0.54" stroke-linejoin="round"/>
<polygon points="1309.2,289.5 1315.7,285.9 1318.7,288.8 1312.2,292.5" fill="#0F5A73" stroke="#0F5A73" stroke-width="0.54" stroke-linejoin="round"/>
<polygon points="1308.1,276.4 1314.6,272.8 1317.6,275.7 1311.2,279.4" fill="#0F5A73" stroke="#0F5A73" stroke-width="0.54" stroke-linejoin="round"/>
<polygon points="1312.6,280.8 1319.1,277.1 1322.1,280.1 1315.6,283.7" fill="#0F5A73" stroke="#0F5A73" stroke-width="0.54" stroke-linejoin="round"/>
<polygon points="1317.1,285.1 1323.5,281.4 1326.6,284.4 1320.1,288" fill="#0F5A73" stroke="#0F5A73" stroke-width="0.54" stroke-linejoin="round"/>
<polygon points="1294.5,267.1 1296.7,267.1 1297.2,314.4 1295,314.4" fill="#D5D9DC" />
<polygon points="1294.5,267.1 1295.4,267.1 1295.9,314.4 1295,314.4" fill="#F0F2F3" />
<polygon points="1296.2,309.3 1300.3,308.4 1300.3,314 1296.7,315.1" fill="#E4E7E9" />
<polygon points="1273.2,292.3 1292.8,282.1 1306.4,296.2 1287.7,306.8" fill="#FFFFFF" stroke="#FFFFFF" stroke-width="1.35" stroke-linejoin="round"/>
<polygon points="1276.1,292.7 1283.3,288.9 1286.2,291.8 1279,295.6" fill="#0F5A73" stroke="#0F5A73" stroke-width="0.54" stroke-linejoin="round"/>
<polygon points="1280.4,297 1287.6,293.2 1290.4,296.1 1283.4,299.9" fill="#0F5A73" stroke="#0F5A73" stroke-width="0.54" stroke-linejoin="round"/>
<polygon points="1284.8,301.3 1291.8,297.4 1294.7,300.4 1287.7,304.3" fill="#0F5A73" stroke="#0F5A73" stroke-width="0.54" stroke-linejoin="round"/>
<polygon points="1284.9,288.1 1292.1,284.3 1294.9,287.2 1287.8,291" fill="#0F5A73" stroke="#0F5A73" stroke-width="0.54" stroke-linejoin="round"/>
<polygon points="1289.1,292.3 1296.2,288.5 1299,291.4 1292,295.2" fill="#0F5A73" stroke="#0F5A73" stroke-width="0.54" stroke-linejoin="round"/>
<polygon points="1293.3,296.6 1300.3,292.7 1303.1,295.6 1296.2,299.5" fill="#0F5A73" stroke="#0F5A73" stroke-width="0.54" stroke-linejoin="round"/>
<polyline points="1284.9,275.8 1295.2,271.6 1306,266.8" fill="none" stroke="#E0E3E6" stroke-width="1.62" />
<ellipse cx="1284" cy="275.6" rx="1.79" ry="2.17" fill="#1C5F73" />
<polyline points="1292.8,264.6 1297.7,267.1" fill="none" stroke="#1C5F73" stroke-width="0.864" />
<polyline points="1302.2,265.2 1307.3,265.9" fill="none" stroke="#1C5F73" stroke-width="0.864" />
<polyline points="1303.8,263.9 1304.9,267.1" fill="none" stroke="#1C5F73" stroke-width="0.648" />
<text class="lbl" x="1493.7" y="107.3" textLength="274.2" lengthAdjust="spacingAndGlyphs">Sensors &amp;</text>
<text class="lbl" x="1493.7" y="163" textLength="456.3" lengthAdjust="spacingAndGlyphs">communication</text>
<text class="lbl" x="1494.7" y="218.3" textLength="213" lengthAdjust="spacingAndGlyphs">devices</text>
<text class="lbl" x="99.6" y="1058.8" textLength="402.7" lengthAdjust="spacingAndGlyphs">Physical world</text>
<text class="lbl" x="1437.7" y="1059.4" textLength="331.4" lengthAdjust="spacingAndGlyphs">Digital twin</text>
</svg>
</body></html>
